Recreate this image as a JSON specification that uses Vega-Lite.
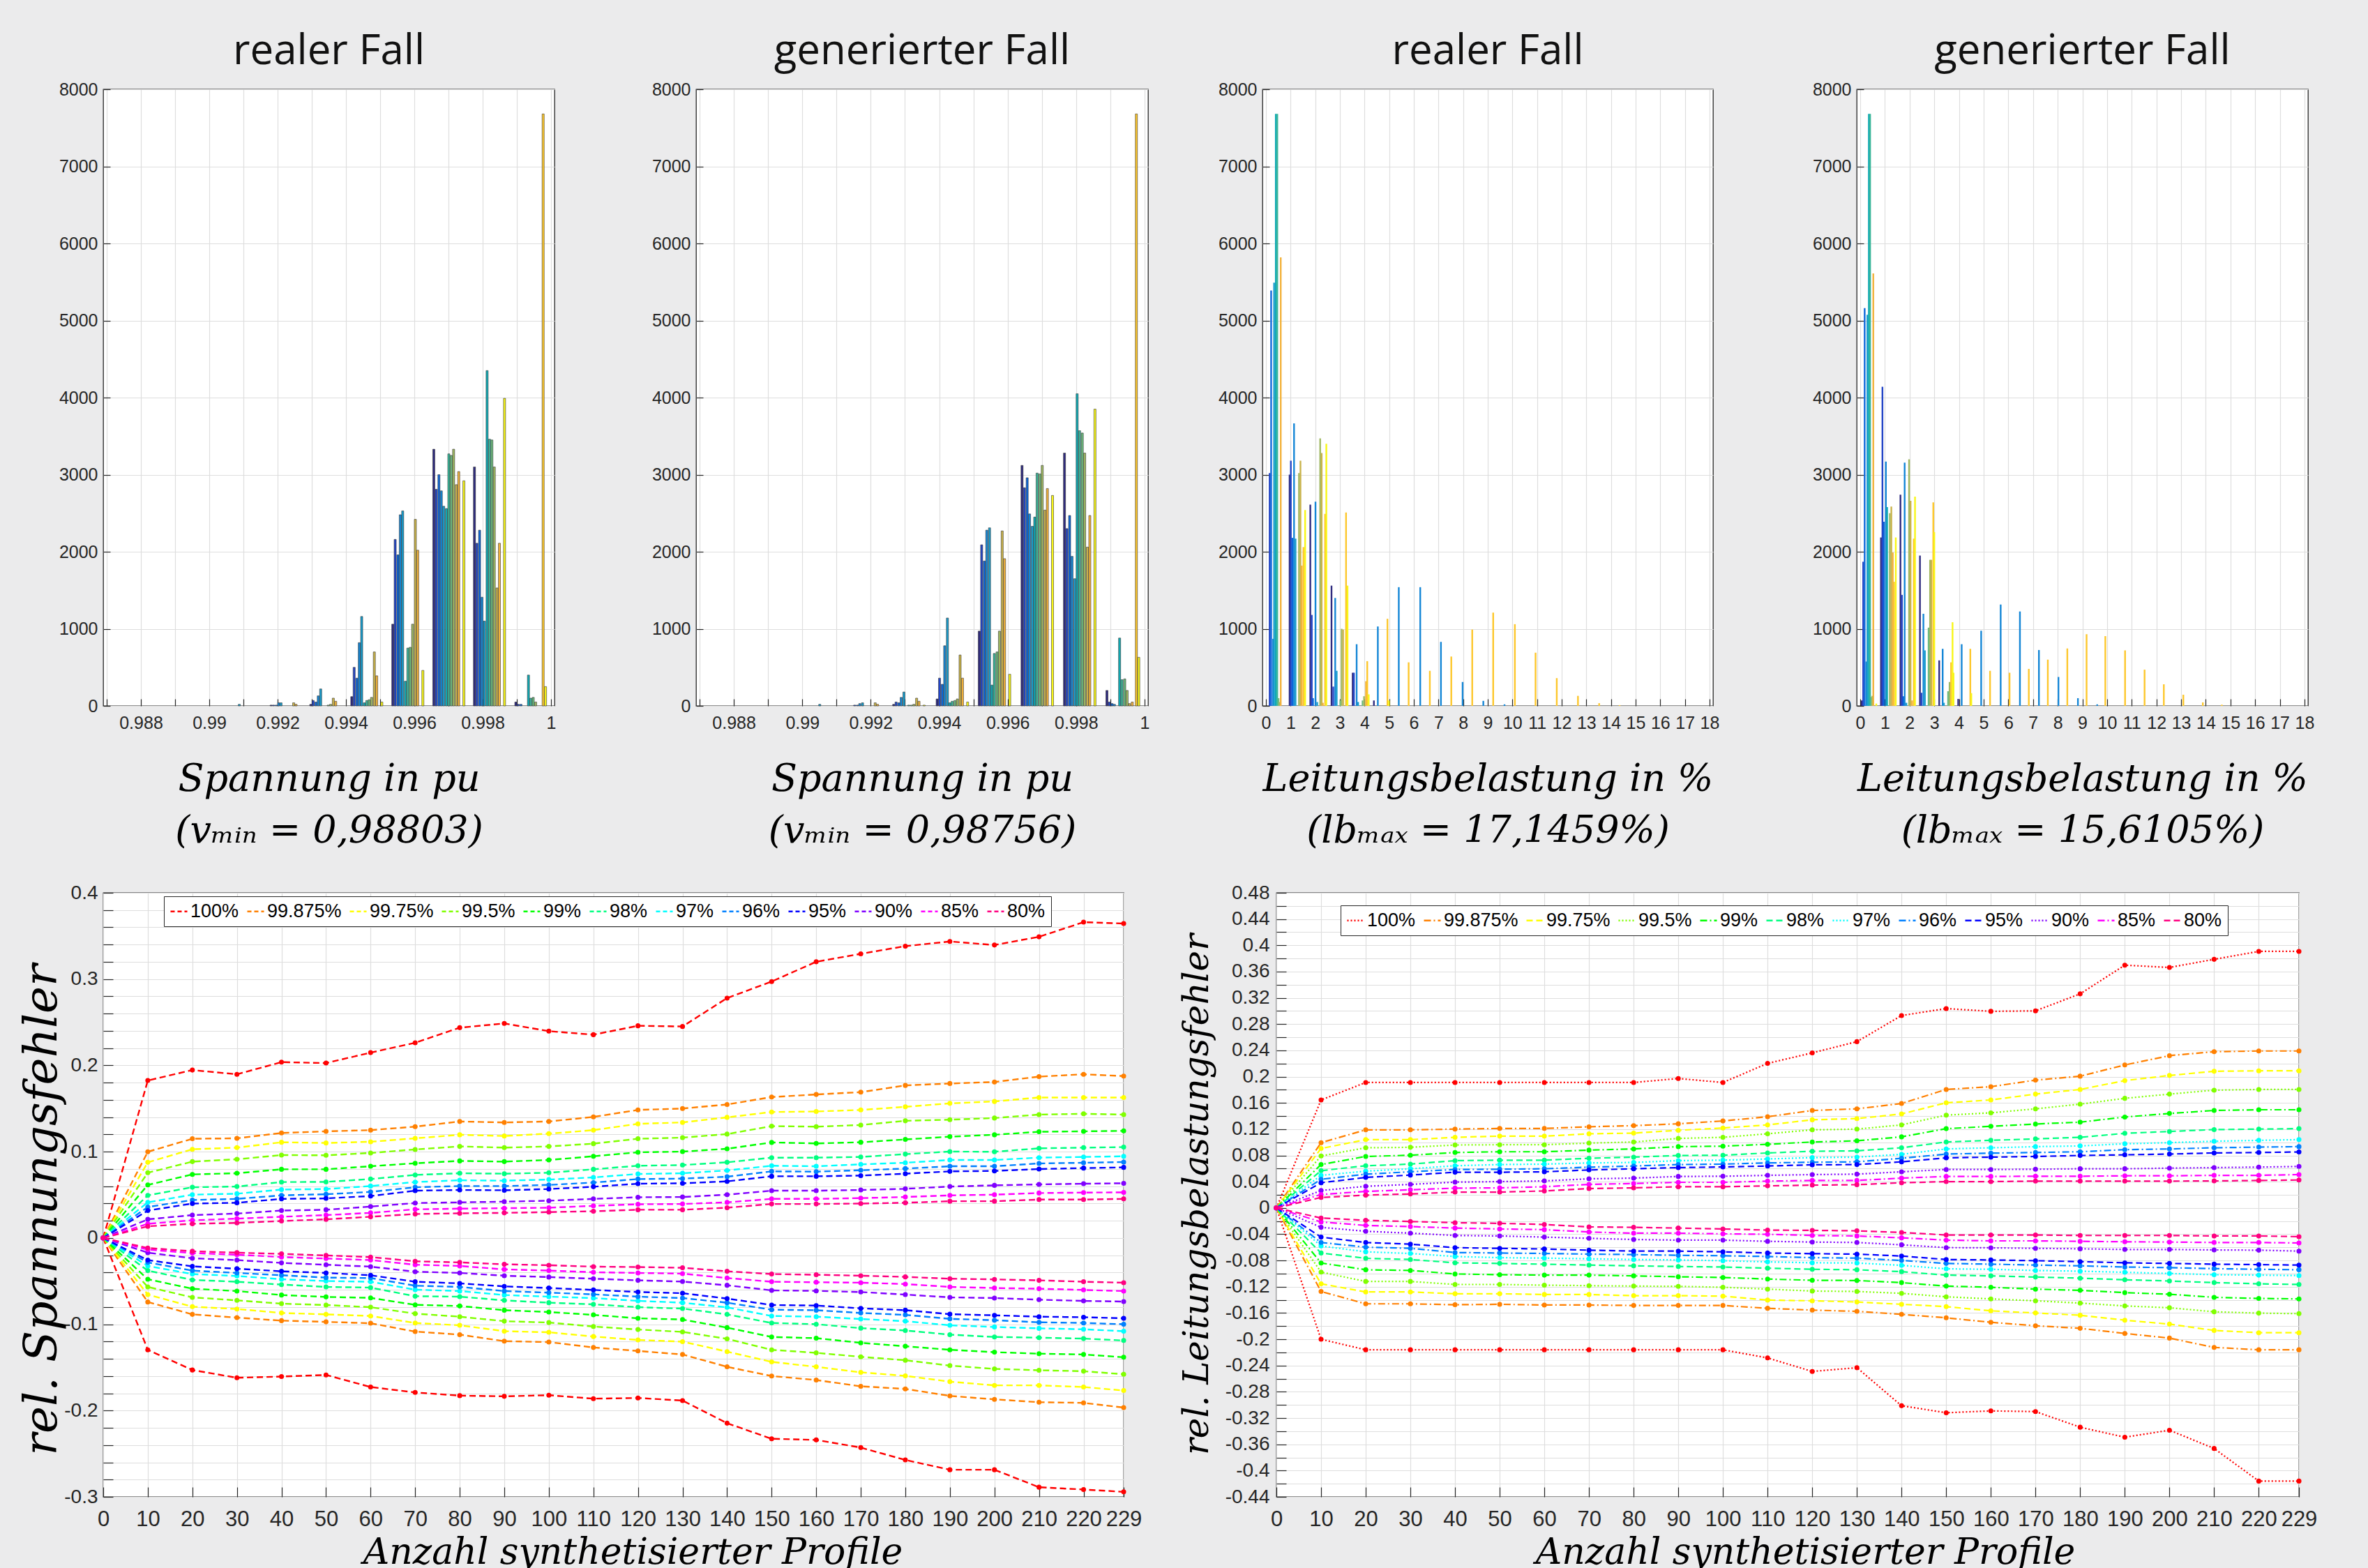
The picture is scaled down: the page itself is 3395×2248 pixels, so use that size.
{
"$schema": "https://vega.github.io/schema/vega-lite/v6.json",
"autosize": {"type": "none"},
"padding": {"left": 148, "top": 128, "right": 3247, "bottom": 2120},
"background": "#EBEBEC",
"spacing": 46,
"resolve": {"scale": {"color": "independent", "strokeDash": "independent"}},
"config": {
  "view": {"stroke": "#262626", "strokeWidth": 1.3, "fill": "white"},
  "axis": {"domain": false, "labelFont": "Liberation Sans", "labelColor": "#262626", "labelOverlap": false, "labelFlush": false, "labelBound": false, "tickColor": "#262626", "tickWidth": 1.2, "gridColor": "#DEDEDE", "gridWidth": 1.2, "titleFont": "DejaVu Serif", "titleFontStyle": "italic", "titleFontWeight": "normal", "titleColor": "black"},
  "title": {"font": "Open Sans", "fontSize": 60, "fontWeight": "normal", "color": "#111111", "frame": "group", "offset": 11, "baseline": "alphabetic", "anchor": "middle"}
},
"datasets": {
"h1": [
{"x":0.99088,"n":20,"k":4},
{"x":0.99181,"n":10,"k":0},{"x":0.99188,"n":10,"k":1},{"x":0.99196,"n":10,"k":2},{"x":0.99203,"n":40,"k":3},{"x":0.99210,"n":40,"k":4},{"x":0.99247,"n":40,"k":9},{"x":0.99254,"n":20,"k":10},
{"x":0.99297,"n":20,"k":0},{"x":0.99304,"n":70,"k":1},{"x":0.99312,"n":50,"k":2},{"x":0.99319,"n":130,"k":3},{"x":0.99326,"n":220,"k":4},{"x":0.99348,"n":10,"k":7},{"x":0.99355,"n":20,"k":8},{"x":0.99363,"n":100,"k":9},{"x":0.99370,"n":60,"k":10},
{"x":0.99417,"n":120,"k":0},{"x":0.99424,"n":500,"k":1},{"x":0.99432,"n":360,"k":2},{"x":0.99439,"n":820,"k":3},{"x":0.99446,"n":1160,"k":4},{"x":0.99454,"n":40,"k":5},{"x":0.99461,"n":70,"k":6},{"x":0.99468,"n":80,"k":7},{"x":0.99475,"n":110,"k":8},{"x":0.99483,"n":700,"k":9},{"x":0.99490,"n":390,"k":10},{"x":0.99505,"n":50,"k":12},
{"x":0.99537,"n":1060,"k":0},{"x":0.99544,"n":2160,"k":1},{"x":0.99552,"n":1960,"k":2},{"x":0.99559,"n":2480,"k":3},{"x":0.99566,"n":2530,"k":4},{"x":0.99574,"n":320,"k":5},{"x":0.99581,"n":750,"k":6},{"x":0.99588,"n":760,"k":7},{"x":0.99595,"n":1060,"k":8},{"x":0.99603,"n":2420,"k":9},{"x":0.99610,"n":2020,"k":10},{"x":0.99625,"n":460,"k":12},
{"x":0.99657,"n":3330,"k":0},{"x":0.99664,"n":2810,"k":1},{"x":0.99672,"n":3000,"k":2},{"x":0.99679,"n":2790,"k":3},{"x":0.99686,"n":2590,"k":4},{"x":0.99694,"n":2560,"k":5},{"x":0.99701,"n":3270,"k":6},{"x":0.99708,"n":3250,"k":7},{"x":0.99715,"n":3330,"k":8},{"x":0.99723,"n":2870,"k":9},{"x":0.99730,"n":3040,"k":10},{"x":0.99745,"n":2920,"k":12},
{"x":0.99776,"n":3100,"k":0},{"x":0.99783,"n":2110,"k":1},{"x":0.99791,"n":2280,"k":2},{"x":0.99798,"n":1410,"k":3},{"x":0.99805,"n":1100,"k":4},{"x":0.99813,"n":4350,"k":5},{"x":0.99820,"n":3460,"k":6},{"x":0.99827,"n":3450,"k":7},{"x":0.99834,"n":3100,"k":8},{"x":0.99842,"n":1530,"k":9},{"x":0.99849,"n":2110,"k":10},{"x":0.99864,"n":3990,"k":12},
{"x":0.99897,"n":50,"k":0},{"x":0.99904,"n":20,"k":1},{"x":0.99912,"n":20,"k":2},{"x":0.99934,"n":400,"k":5},{"x":0.99941,"n":100,"k":6},{"x":0.99948,"n":110,"k":7},{"x":0.99955,"n":50,"k":8},{"x":0.99977,"n":7680,"k":11},{"x":0.99984,"n":250,"k":12}
],
"h2": [
{"x":0.99051,"n":20,"k":4},
{"x":0.99153,"n":10,"k":1},{"x":0.99161,"n":10,"k":2},{"x":0.99168,"n":30,"k":3},{"x":0.99176,"n":40,"k":4},{"x":0.99213,"n":40,"k":9},{"x":0.99220,"n":20,"k":10},
{"x":0.99267,"n":20,"k":0},{"x":0.99274,"n":50,"k":1},{"x":0.99282,"n":40,"k":2},{"x":0.99289,"n":110,"k":3},{"x":0.99297,"n":180,"k":4},{"x":0.99311,"n":10,"k":6},{"x":0.99319,"n":10,"k":7},{"x":0.99326,"n":20,"k":8},{"x":0.99334,"n":100,"k":9},{"x":0.99341,"n":60,"k":10},{"x":0.99356,"n":10,"k":12},
{"x":0.99394,"n":90,"k":0},{"x":0.99401,"n":360,"k":1},{"x":0.99409,"n":280,"k":2},{"x":0.99416,"n":780,"k":3},{"x":0.99424,"n":1140,"k":4},{"x":0.99431,"n":40,"k":5},{"x":0.99438,"n":60,"k":6},{"x":0.99446,"n":70,"k":7},{"x":0.99453,"n":90,"k":8},{"x":0.99461,"n":660,"k":9},{"x":0.99468,"n":360,"k":10},{"x":0.99483,"n":50,"k":12},
{"x":0.99517,"n":970,"k":0},{"x":0.99524,"n":2090,"k":1},{"x":0.99532,"n":1880,"k":2},{"x":0.99539,"n":2280,"k":3},{"x":0.99547,"n":2310,"k":4},{"x":0.99554,"n":270,"k":5},{"x":0.99561,"n":680,"k":6},{"x":0.99569,"n":700,"k":7},{"x":0.99576,"n":970,"k":8},{"x":0.99584,"n":2270,"k":9},{"x":0.99591,"n":1910,"k":10},{"x":0.99606,"n":410,"k":12},
{"x":0.99642,"n":3120,"k":0},{"x":0.99649,"n":2830,"k":1},{"x":0.99657,"n":2960,"k":2},{"x":0.99664,"n":2490,"k":3},{"x":0.99672,"n":2330,"k":4},{"x":0.99679,"n":2450,"k":5},{"x":0.99686,"n":3020,"k":6},{"x":0.99694,"n":3010,"k":7},{"x":0.99701,"n":3120,"k":8},{"x":0.99709,"n":2540,"k":9},{"x":0.99716,"n":2820,"k":10},{"x":0.99731,"n":2730,"k":12},
{"x":0.99766,"n":3280,"k":0},{"x":0.99773,"n":2300,"k":1},{"x":0.99781,"n":2470,"k":2},{"x":0.99788,"n":1940,"k":3},{"x":0.99796,"n":1650,"k":4},{"x":0.99803,"n":4050,"k":5},{"x":0.99810,"n":3570,"k":6},{"x":0.99818,"n":3540,"k":7},{"x":0.99825,"n":3280,"k":8},{"x":0.99833,"n":2060,"k":9},{"x":0.99840,"n":2470,"k":10},{"x":0.99855,"n":3850,"k":12},
{"x":0.99890,"n":200,"k":0},{"x":0.99897,"n":50,"k":1},{"x":0.99905,"n":30,"k":2},{"x":0.99912,"n":20,"k":3},{"x":0.99927,"n":880,"k":5},{"x":0.99934,"n":340,"k":6},{"x":0.99942,"n":350,"k":7},{"x":0.99949,"n":200,"k":8},{"x":0.99956,"n":30,"k":9},{"x":0.99964,"n":50,"k":10},{"x":0.99976,"n":7680,"k":11},{"x":0.99983,"n":630,"k":12}
],
"h3": [
{"x":0.15,"n":3020,"k":1},{"x":0.21,"n":5390,"k":2},{"x":0.29,"n":870,"k":3},{"x":0.33,"n":5490,"k":4},{"x":0.40,"n":7680,"k":5},{"x":0.46,"n":7680,"k":6},{"x":0.51,"n":100,"k":7},{"x":0.55,"n":50,"k":8},{"x":0.60,"n":5820,"k":10},
{"x":0.96,"n":3000,"k":0},{"x":1.01,"n":3180,"k":1},{"x":1.07,"n":2180,"k":2},{"x":1.14,"n":3665,"k":3},{"x":1.20,"n":2170,"k":4},{"x":1.34,"n":3020,"k":8},{"x":1.40,"n":3180,"k":9},{"x":1.45,"n":1820,"k":10},{"x":1.52,"n":2060,"k":11},{"x":1.59,"n":2540,"k":12},
{"x":1.80,"n":2610,"k":0},{"x":1.86,"n":1180,"k":1},{"x":1.91,"n":100,"k":2},{"x":2.01,"n":2650,"k":3},{"x":2.08,"n":50,"k":4},{"x":2.20,"n":3470,"k":8},{"x":2.26,"n":3280,"k":9},{"x":2.31,"n":40,"k":10},{"x":2.40,"n":2490,"k":11},{"x":2.45,"n":3400,"k":12},
{"x":2.66,"n":1560,"k":0},{"x":2.73,"n":250,"k":1},{"x":2.81,"n":1400,"k":3},{"x":2.87,"n":455,"k":4},{"x":3.02,"n":70,"k":7},{"x":3.07,"n":1000,"k":8},{"x":3.13,"n":990,"k":9},{"x":3.25,"n":2510,"k":11},{"x":3.31,"n":1560,"k":12},
{"x":3.52,"n":430,"k":0},{"x":3.57,"n":430,"k":1},{"x":3.68,"n":800,"k":3},{"x":3.74,"n":50,"k":4},{"x":3.92,"n":70,"k":7},{"x":3.98,"n":125,"k":8},{"x":4.06,"n":320,"k":10},{"x":4.11,"n":580,"k":11},{"x":4.17,"n":150,"k":12},
{"x":4.38,"n":70,"k":0},{"x":4.54,"n":1030,"k":3},{"x":4.93,"n":1130,"k":11},{"x":4.99,"n":70,"k":12},{"x":5.39,"n":1540,"k":3},{"x":5.79,"n":565,"k":11},{"x":6.26,"n":1540,"k":3},{"x":6.65,"n":455,"k":11},{"x":7.10,"n":830,"k":3},{"x":7.52,"n":640,"k":11},{"x":7.98,"n":310,"k":3},{"x":8.37,"n":990,"k":11},{"x":8.82,"n":65,"k":3},{"x":9.22,"n":1210,"k":11},{"x":9.68,"n":20,"k":3},{"x":10.1,"n":1060,"k":11},{"x":10.94,"n":690,"k":11},{"x":11.8,"n":360,"k":11},{"x":12.66,"n":130,"k":11},{"x":13.52,"n":35,"k":11},{"x":14.35,"n":10,"k":11}
],
"h4": [
{"x":0.06,"n":70,"k":0},{"x":0.12,"n":1870,"k":1},{"x":0.18,"n":5160,"k":2},{"x":0.25,"n":575,"k":3},{"x":0.29,"n":5075,"k":4},{"x":0.35,"n":7680,"k":5},{"x":0.40,"n":7680,"k":6},{"x":0.46,"n":115,"k":7},{"x":0.49,"n":130,"k":8},{"x":0.53,"n":5610,"k":10},{"x":0.65,"n":30,"k":12},
{"x":0.84,"n":2185,"k":0},{"x":0.90,"n":4140,"k":1},{"x":0.96,"n":2390,"k":2},{"x":1.04,"n":3170,"k":3},{"x":1.09,"n":2580,"k":5},{"x":1.20,"n":2500,"k":8},{"x":1.26,"n":2585,"k":9},{"x":1.32,"n":1990,"k":10},{"x":1.37,"n":1610,"k":11},{"x":1.44,"n":2185,"k":12},
{"x":1.63,"n":2740,"k":0},{"x":1.69,"n":1440,"k":1},{"x":1.75,"n":125,"k":2},{"x":1.80,"n":3155,"k":3},{"x":1.87,"n":40,"k":4},{"x":1.98,"n":3200,"k":8},{"x":2.04,"n":2660,"k":9},{"x":2.10,"n":70,"k":10},{"x":2.17,"n":2170,"k":11},{"x":2.22,"n":2715,"k":12},
{"x":2.42,"n":1950,"k":0},{"x":2.48,"n":170,"k":1},{"x":2.56,"n":1195,"k":3},{"x":2.62,"n":720,"k":4},{"x":2.77,"n":1015,"k":7},{"x":2.83,"n":1895,"k":8},{"x":2.88,"n":1895,"k":9},{"x":2.96,"n":2640,"k":11},{"x":3.00,"n":2255,"k":12},
{"x":3.20,"n":590,"k":0},{"x":3.34,"n":740,"k":3},{"x":3.39,"n":40,"k":4},{"x":3.56,"n":190,"k":7},{"x":3.62,"n":310,"k":8},{"x":3.68,"n":565,"k":11},{"x":3.74,"n":1085,"k":12},{"x":3.78,"n":430,"k":12},
{"x":3.97,"n":90,"k":0},{"x":4.11,"n":800,"k":3},{"x":4.46,"n":740,"k":11},{"x":4.50,"n":165,"k":12},{"x":4.90,"n":975,"k":3},{"x":5.26,"n":455,"k":11},{"x":5.69,"n":1315,"k":3},{"x":6.05,"n":430,"k":11},{"x":6.47,"n":1225,"k":3},{"x":6.83,"n":480,"k":11},{"x":7.24,"n":725,"k":3},{"x":7.60,"n":600,"k":11},{"x":8.03,"n":375,"k":3},{"x":8.39,"n":745,"k":11},{"x":8.82,"n":100,"k":3},{"x":9.17,"n":930,"k":11},{"x":9.60,"n":20,"k":3},{"x":9.93,"n":905,"k":11},{"x":10.73,"n":720,"k":11},{"x":11.52,"n":470,"k":11},{"x":12.30,"n":280,"k":11},{"x":13.09,"n":145,"k":11},{"x":13.88,"n":45,"k":11},{"x":14.65,"n":15,"k":11}
],
"left": [
{"s":"100%","h":"u","n":0,"v":0},{"s":"100%","h":"u","n":10,"v":0.1825},{"s":"100%","h":"u","n":20,"v":0.1946},{"s":"100%","h":"u","n":30,"v":0.1897},{"s":"100%","h":"u","n":40,"v":0.2038},{"s":"100%","h":"u","n":50,"v":0.2027},{"s":"100%","h":"u","n":60,"v":0.2148},{"s":"100%","h":"u","n":70,"v":0.2262},{"s":"100%","h":"u","n":80,"v":0.2437},{"s":"100%","h":"u","n":90,"v":0.2486},{"s":"100%","h":"u","n":100,"v":0.2397},{"s":"100%","h":"u","n":110,"v":0.2356},{"s":"100%","h":"u","n":120,"v":0.2459},{"s":"100%","h":"u","n":130,"v":0.2451},{"s":"100%","h":"u","n":140,"v":0.278},{"s":"100%","h":"u","n":150,"v":0.2972},{"s":"100%","h":"u","n":160,"v":0.3201},{"s":"100%","h":"u","n":170,"v":0.3293},{"s":"100%","h":"u","n":180,"v":0.3382},{"s":"100%","h":"u","n":190,"v":0.3436},{"s":"100%","h":"u","n":200,"v":0.3395},{"s":"100%","h":"u","n":210,"v":0.349},{"s":"100%","h":"u","n":220,"v":0.366},{"s":"100%","h":"u","n":229,"v":0.3644},
{"s":"100%","h":"l","n":0,"v":0},{"s":"100%","h":"l","n":10,"v":-0.1296},{"s":"100%","h":"l","n":20,"v":-0.153},{"s":"100%","h":"l","n":30,"v":-0.162},{"s":"100%","h":"l","n":40,"v":-0.1606},{"s":"100%","h":"l","n":50,"v":-0.1587},{"s":"100%","h":"l","n":60,"v":-0.1727},{"s":"100%","h":"l","n":70,"v":-0.179},{"s":"100%","h":"l","n":80,"v":-0.1827},{"s":"100%","h":"l","n":90,"v":-0.1835},{"s":"100%","h":"l","n":100,"v":-0.1822},{"s":"100%","h":"l","n":110,"v":-0.1862},{"s":"100%","h":"l","n":120,"v":-0.1854},{"s":"100%","h":"l","n":130,"v":-0.1884},{"s":"100%","h":"l","n":140,"v":-0.2146},{"s":"100%","h":"l","n":150,"v":-0.2327},{"s":"100%","h":"l","n":160,"v":-0.234},{"s":"100%","h":"l","n":170,"v":-0.2429},{"s":"100%","h":"l","n":180,"v":-0.2572},{"s":"100%","h":"l","n":190,"v":-0.2686},{"s":"100%","h":"l","n":200,"v":-0.2686},{"s":"100%","h":"l","n":210,"v":-0.2888},{"s":"100%","h":"l","n":220,"v":-0.2915},{"s":"100%","h":"l","n":229,"v":-0.2942},
{"s":"99.875%","h":"u","n":0,"v":0},{"s":"99.875%","h":"u","n":10,"v":0.0999},{"s":"99.875%","h":"u","n":20,"v":0.115},{"s":"99.875%","h":"u","n":30,"v":0.1155},{"s":"99.875%","h":"u","n":40,"v":0.1217},{"s":"99.875%","h":"u","n":50,"v":0.1236},{"s":"99.875%","h":"u","n":60,"v":0.125},{"s":"99.875%","h":"u","n":70,"v":0.129},{"s":"99.875%","h":"u","n":80,"v":0.135},{"s":"99.875%","h":"u","n":90,"v":0.1339},{"s":"99.875%","h":"u","n":100,"v":0.135},{"s":"99.875%","h":"u","n":110,"v":0.1403},{"s":"99.875%","h":"u","n":120,"v":0.1484},{"s":"99.875%","h":"u","n":130,"v":0.15},{"s":"99.875%","h":"u","n":140,"v":0.1547},{"s":"99.875%","h":"u","n":150,"v":0.1633},{"s":"99.875%","h":"u","n":160,"v":0.1663},{"s":"99.875%","h":"u","n":170,"v":0.169},{"s":"99.875%","h":"u","n":180,"v":0.1768},{"s":"99.875%","h":"u","n":190,"v":0.179},{"s":"99.875%","h":"u","n":200,"v":0.1808},{"s":"99.875%","h":"u","n":210,"v":0.187},{"s":"99.875%","h":"u","n":220,"v":0.1897},{"s":"99.875%","h":"u","n":229,"v":0.1876},
{"s":"99.875%","h":"l","n":0,"v":0},{"s":"99.875%","h":"l","n":10,"v":-0.0742},{"s":"99.875%","h":"l","n":20,"v":-0.0885},{"s":"99.875%","h":"l","n":30,"v":-0.0923},{"s":"99.875%","h":"l","n":40,"v":-0.0958},{"s":"99.875%","h":"l","n":50,"v":-0.0972},{"s":"99.875%","h":"l","n":60,"v":-0.0988},{"s":"99.875%","h":"l","n":70,"v":-0.1085},{"s":"99.875%","h":"l","n":80,"v":-0.112},{"s":"99.875%","h":"l","n":90,"v":-0.1196},{"s":"99.875%","h":"l","n":100,"v":-0.1206},{"s":"99.875%","h":"l","n":110,"v":-0.1269},{"s":"99.875%","h":"l","n":120,"v":-0.1309},{"s":"99.875%","h":"l","n":130,"v":-0.135},{"s":"99.875%","h":"l","n":140,"v":-0.1493},{"s":"99.875%","h":"l","n":150,"v":-0.16},{"s":"99.875%","h":"l","n":160,"v":-0.1646},{"s":"99.875%","h":"l","n":170,"v":-0.1719},{"s":"99.875%","h":"l","n":180,"v":-0.1749},{"s":"99.875%","h":"l","n":190,"v":-0.183},{"s":"99.875%","h":"l","n":200,"v":-0.187},{"s":"99.875%","h":"l","n":210,"v":-0.1903},{"s":"99.875%","h":"l","n":220,"v":-0.1911},{"s":"99.875%","h":"l","n":229,"v":-0.1965},
{"s":"99.75%","h":"u","n":0,"v":0},{"s":"99.75%","h":"u","n":10,"v":0.0877},{"s":"99.75%","h":"u","n":20,"v":0.1028},{"s":"99.75%","h":"u","n":30,"v":0.1047},{"s":"99.75%","h":"u","n":40,"v":0.1109},{"s":"99.75%","h":"u","n":50,"v":0.1101},{"s":"99.75%","h":"u","n":60,"v":0.1115},{"s":"99.75%","h":"u","n":70,"v":0.1155},{"s":"99.75%","h":"u","n":80,"v":0.1196},{"s":"99.75%","h":"u","n":90,"v":0.1182},{"s":"99.75%","h":"u","n":100,"v":0.1209},{"s":"99.75%","h":"u","n":110,"v":0.125},{"s":"99.75%","h":"u","n":120,"v":0.1323},{"s":"99.75%","h":"u","n":130,"v":0.1339},{"s":"99.75%","h":"u","n":140,"v":0.1398},{"s":"99.75%","h":"u","n":150,"v":0.146},{"s":"99.75%","h":"u","n":160,"v":0.1466},{"s":"99.75%","h":"u","n":170,"v":0.1484},{"s":"99.75%","h":"u","n":180,"v":0.152},{"s":"99.75%","h":"u","n":190,"v":0.156},{"s":"99.75%","h":"u","n":200,"v":0.1582},{"s":"99.75%","h":"u","n":210,"v":0.1628},{"s":"99.75%","h":"u","n":220,"v":0.1628},{"s":"99.75%","h":"u","n":229,"v":0.1628},
{"s":"99.75%","h":"l","n":0,"v":0},{"s":"99.75%","h":"l","n":10,"v":-0.0656},{"s":"99.75%","h":"l","n":20,"v":-0.0796},{"s":"99.75%","h":"l","n":30,"v":-0.0823},{"s":"99.75%","h":"l","n":40,"v":-0.0869},{"s":"99.75%","h":"l","n":50,"v":-0.0885},{"s":"99.75%","h":"l","n":60,"v":-0.0904},{"s":"99.75%","h":"l","n":70,"v":-0.0985},{"s":"99.75%","h":"l","n":80,"v":-0.1012},{"s":"99.75%","h":"l","n":90,"v":-0.108},{"s":"99.75%","h":"l","n":100,"v":-0.1093},{"s":"99.75%","h":"l","n":110,"v":-0.1142},{"s":"99.75%","h":"l","n":120,"v":-0.1182},{"s":"99.75%","h":"l","n":130,"v":-0.1201},{"s":"99.75%","h":"l","n":140,"v":-0.1317},{"s":"99.75%","h":"l","n":150,"v":-0.1436},{"s":"99.75%","h":"l","n":160,"v":-0.1493},{"s":"99.75%","h":"l","n":170,"v":-0.1557},{"s":"99.75%","h":"l","n":180,"v":-0.1598},{"s":"99.75%","h":"l","n":190,"v":-0.1665},{"s":"99.75%","h":"l","n":200,"v":-0.1708},{"s":"99.75%","h":"l","n":210,"v":-0.1708},{"s":"99.75%","h":"l","n":220,"v":-0.1727},{"s":"99.75%","h":"l","n":229,"v":-0.1768},
{"s":"99.5%","h":"u","n":0,"v":0},{"s":"99.5%","h":"u","n":10,"v":0.0756},{"s":"99.5%","h":"u","n":20,"v":0.0885},{"s":"99.5%","h":"u","n":30,"v":0.0912},{"s":"99.5%","h":"u","n":40,"v":0.0961},{"s":"99.5%","h":"u","n":50,"v":0.0958},{"s":"99.5%","h":"u","n":60,"v":0.0985},{"s":"99.5%","h":"u","n":70,"v":0.1026},{"s":"99.5%","h":"u","n":80,"v":0.1061},{"s":"99.5%","h":"u","n":90,"v":0.1047},{"s":"99.5%","h":"u","n":100,"v":0.1061},{"s":"99.5%","h":"u","n":110,"v":0.1093},{"s":"99.5%","h":"u","n":120,"v":0.115},{"s":"99.5%","h":"u","n":130,"v":0.1163},{"s":"99.5%","h":"u","n":140,"v":0.1204},{"s":"99.5%","h":"u","n":150,"v":0.1296},{"s":"99.5%","h":"u","n":160,"v":0.129},{"s":"99.5%","h":"u","n":170,"v":0.1309},{"s":"99.5%","h":"u","n":180,"v":0.1358},{"s":"99.5%","h":"u","n":190,"v":0.1371},{"s":"99.5%","h":"u","n":200,"v":0.139},{"s":"99.5%","h":"u","n":210,"v":0.143},{"s":"99.5%","h":"u","n":220,"v":0.1439},{"s":"99.5%","h":"u","n":229,"v":0.143},
{"s":"99.5%","h":"l","n":0,"v":0},{"s":"99.5%","h":"l","n":10,"v":-0.0567},{"s":"99.5%","h":"l","n":20,"v":-0.0688},{"s":"99.5%","h":"l","n":30,"v":-0.0723},{"s":"99.5%","h":"l","n":40,"v":-0.0761},{"s":"99.5%","h":"l","n":50,"v":-0.0777},{"s":"99.5%","h":"l","n":60,"v":-0.0802},{"s":"99.5%","h":"l","n":70,"v":-0.0877},{"s":"99.5%","h":"l","n":80,"v":-0.0912},{"s":"99.5%","h":"l","n":90,"v":-0.0964},{"s":"99.5%","h":"l","n":100,"v":-0.098},{"s":"99.5%","h":"l","n":110,"v":-0.1026},{"s":"99.5%","h":"l","n":120,"v":-0.1061},{"s":"99.5%","h":"l","n":130,"v":-0.1088},{"s":"99.5%","h":"l","n":140,"v":-0.1169},{"s":"99.5%","h":"l","n":150,"v":-0.1296},{"s":"99.5%","h":"l","n":160,"v":-0.1331},{"s":"99.5%","h":"l","n":170,"v":-0.1377},{"s":"99.5%","h":"l","n":180,"v":-0.1417},{"s":"99.5%","h":"l","n":190,"v":-0.1479},{"s":"99.5%","h":"l","n":200,"v":-0.1517},{"s":"99.5%","h":"l","n":210,"v":-0.1533},{"s":"99.5%","h":"l","n":220,"v":-0.1544},{"s":"99.5%","h":"l","n":229,"v":-0.1579},
{"s":"99%","h":"u","n":0,"v":0},{"s":"99%","h":"u","n":10,"v":0.0615},{"s":"99%","h":"u","n":20,"v":0.0737},{"s":"99%","h":"u","n":30,"v":0.075},{"s":"99%","h":"u","n":40,"v":0.0796},{"s":"99%","h":"u","n":50,"v":0.0796},{"s":"99%","h":"u","n":60,"v":0.0831},{"s":"99%","h":"u","n":70,"v":0.0866},{"s":"99%","h":"u","n":80,"v":0.0893},{"s":"99%","h":"u","n":90,"v":0.0885},{"s":"99%","h":"u","n":100,"v":0.0904},{"s":"99%","h":"u","n":110,"v":0.0947},{"s":"99%","h":"u","n":120,"v":0.0993},{"s":"99%","h":"u","n":130,"v":0.1001},{"s":"99%","h":"u","n":140,"v":0.1034},{"s":"99%","h":"u","n":150,"v":0.1107},{"s":"99%","h":"u","n":160,"v":0.1096},{"s":"99%","h":"u","n":170,"v":0.1109},{"s":"99%","h":"u","n":180,"v":0.1142},{"s":"99%","h":"u","n":190,"v":0.1174},{"s":"99%","h":"u","n":200,"v":0.1196},{"s":"99%","h":"u","n":210,"v":0.1231},{"s":"99%","h":"u","n":220,"v":0.1236},{"s":"99%","h":"u","n":229,"v":0.1242},
{"s":"99%","h":"l","n":0,"v":0},{"s":"99%","h":"l","n":10,"v":-0.0478},{"s":"99%","h":"l","n":20,"v":-0.0588},{"s":"99%","h":"l","n":30,"v":-0.0615},{"s":"99%","h":"l","n":40,"v":-0.0661},{"s":"99%","h":"l","n":50,"v":-0.0683},{"s":"99%","h":"l","n":60,"v":-0.0694},{"s":"99%","h":"l","n":70,"v":-0.0775},{"s":"99%","h":"l","n":80,"v":-0.0788},{"s":"99%","h":"l","n":90,"v":-0.0837},{"s":"99%","h":"l","n":100,"v":-0.0858},{"s":"99%","h":"l","n":110,"v":-0.0891},{"s":"99%","h":"l","n":120,"v":-0.0931},{"s":"99%","h":"l","n":130,"v":-0.0945},{"s":"99%","h":"l","n":140,"v":-0.1039},{"s":"99%","h":"l","n":150,"v":-0.1147},{"s":"99%","h":"l","n":160,"v":-0.1161},{"s":"99%","h":"l","n":170,"v":-0.1215},{"s":"99%","h":"l","n":180,"v":-0.1255},{"s":"99%","h":"l","n":190,"v":-0.1296},{"s":"99%","h":"l","n":200,"v":-0.1323},{"s":"99%","h":"l","n":210,"v":-0.1341},{"s":"99%","h":"l","n":220,"v":-0.135},{"s":"99%","h":"l","n":229,"v":-0.1382},
{"s":"98%","h":"u","n":0,"v":0},{"s":"98%","h":"u","n":10,"v":0.0494},{"s":"98%","h":"u","n":20,"v":0.0588},{"s":"98%","h":"u","n":30,"v":0.0596},{"s":"98%","h":"u","n":40,"v":0.0648},{"s":"98%","h":"u","n":50,"v":0.065},{"s":"98%","h":"u","n":60,"v":0.0683},{"s":"98%","h":"u","n":70,"v":0.0731},{"s":"98%","h":"u","n":80,"v":0.075},{"s":"98%","h":"u","n":90,"v":0.0745},{"s":"98%","h":"u","n":100,"v":0.0756},{"s":"98%","h":"u","n":110,"v":0.0796},{"s":"98%","h":"u","n":120,"v":0.0837},{"s":"98%","h":"u","n":130,"v":0.0845},{"s":"98%","h":"u","n":140,"v":0.0877},{"s":"98%","h":"u","n":150,"v":0.0931},{"s":"98%","h":"u","n":160,"v":0.0931},{"s":"98%","h":"u","n":170,"v":0.0939},{"s":"98%","h":"u","n":180,"v":0.0972},{"s":"98%","h":"u","n":190,"v":0.1001},{"s":"98%","h":"u","n":200,"v":0.0999},{"s":"98%","h":"u","n":210,"v":0.1039},{"s":"98%","h":"u","n":220,"v":0.1047},{"s":"98%","h":"u","n":229,"v":0.1053},
{"s":"98%","h":"l","n":0,"v":0},{"s":"98%","h":"l","n":10,"v":-0.0378},{"s":"98%","h":"l","n":20,"v":-0.0486},{"s":"98%","h":"l","n":30,"v":-0.0507},{"s":"98%","h":"l","n":40,"v":-0.054},{"s":"98%","h":"l","n":50,"v":-0.0567},{"s":"98%","h":"l","n":60,"v":-0.0575},{"s":"98%","h":"l","n":70,"v":-0.0675},{"s":"98%","h":"l","n":80,"v":-0.068},{"s":"98%","h":"l","n":90,"v":-0.0723},{"s":"98%","h":"l","n":100,"v":-0.075},{"s":"98%","h":"l","n":110,"v":-0.0769},{"s":"98%","h":"l","n":120,"v":-0.0802},{"s":"98%","h":"l","n":130,"v":-0.0818},{"s":"98%","h":"l","n":140,"v":-0.0885},{"s":"98%","h":"l","n":150,"v":-0.0985},{"s":"98%","h":"l","n":160,"v":-0.0999},{"s":"98%","h":"l","n":170,"v":-0.1045},{"s":"98%","h":"l","n":180,"v":-0.1072},{"s":"98%","h":"l","n":190,"v":-0.112},{"s":"98%","h":"l","n":200,"v":-0.1147},{"s":"98%","h":"l","n":210,"v":-0.1155},{"s":"98%","h":"l","n":220,"v":-0.1166},{"s":"98%","h":"l","n":229,"v":-0.1188},
{"s":"97%","h":"u","n":0,"v":0},{"s":"97%","h":"u","n":10,"v":0.0413},{"s":"97%","h":"u","n":20,"v":0.0502},{"s":"97%","h":"u","n":30,"v":0.0513},{"s":"97%","h":"u","n":40,"v":0.0561},{"s":"97%","h":"u","n":50,"v":0.0567},{"s":"97%","h":"u","n":60,"v":0.0602},{"s":"97%","h":"u","n":70,"v":0.0648},{"s":"97%","h":"u","n":80,"v":0.0669},{"s":"97%","h":"u","n":90,"v":0.0664},{"s":"97%","h":"u","n":100,"v":0.0677},{"s":"97%","h":"u","n":110,"v":0.0702},{"s":"97%","h":"u","n":120,"v":0.0742},{"s":"97%","h":"u","n":130,"v":0.075},{"s":"97%","h":"u","n":140,"v":0.0783},{"s":"97%","h":"u","n":150,"v":0.0837},{"s":"97%","h":"u","n":160,"v":0.0831},{"s":"97%","h":"u","n":170,"v":0.0853},{"s":"97%","h":"u","n":180,"v":0.0872},{"s":"97%","h":"u","n":190,"v":0.0904},{"s":"97%","h":"u","n":200,"v":0.0904},{"s":"97%","h":"u","n":210,"v":0.0931},{"s":"97%","h":"u","n":220,"v":0.0939},{"s":"97%","h":"u","n":229,"v":0.0947},
{"s":"97%","h":"l","n":0,"v":0},{"s":"97%","h":"l","n":10,"v":-0.0324},{"s":"97%","h":"l","n":20,"v":-0.0418},{"s":"97%","h":"l","n":30,"v":-0.044},{"s":"97%","h":"l","n":40,"v":-0.0478},{"s":"97%","h":"l","n":50,"v":-0.0499},{"s":"97%","h":"l","n":60,"v":-0.0507},{"s":"97%","h":"l","n":70,"v":-0.0599},{"s":"97%","h":"l","n":80,"v":-0.0615},{"s":"97%","h":"l","n":90,"v":-0.0661},{"s":"97%","h":"l","n":100,"v":-0.068},{"s":"97%","h":"l","n":110,"v":-0.0696},{"s":"97%","h":"l","n":120,"v":-0.0729},{"s":"97%","h":"l","n":130,"v":-0.075},{"s":"97%","h":"l","n":140,"v":-0.0804},{"s":"97%","h":"l","n":150,"v":-0.0904},{"s":"97%","h":"l","n":160,"v":-0.0912},{"s":"97%","h":"l","n":170,"v":-0.0939},{"s":"97%","h":"l","n":180,"v":-0.0964},{"s":"97%","h":"l","n":190,"v":-0.1012},{"s":"97%","h":"l","n":200,"v":-0.1031},{"s":"97%","h":"l","n":210,"v":-0.1047},{"s":"97%","h":"l","n":220,"v":-0.1058},{"s":"97%","h":"l","n":229,"v":-0.108},
{"s":"96%","h":"u","n":0,"v":0},{"s":"96%","h":"u","n":10,"v":0.0359},{"s":"96%","h":"u","n":20,"v":0.044},{"s":"96%","h":"u","n":30,"v":0.0453},{"s":"96%","h":"u","n":40,"v":0.0494},{"s":"96%","h":"u","n":50,"v":0.0507},{"s":"96%","h":"u","n":60,"v":0.0534},{"s":"96%","h":"u","n":70,"v":0.0588},{"s":"96%","h":"u","n":80,"v":0.0602},{"s":"96%","h":"u","n":90,"v":0.0602},{"s":"96%","h":"u","n":100,"v":0.0615},{"s":"96%","h":"u","n":110,"v":0.0642},{"s":"96%","h":"u","n":120,"v":0.0683},{"s":"96%","h":"u","n":130,"v":0.0688},{"s":"96%","h":"u","n":140,"v":0.071},{"s":"96%","h":"u","n":150,"v":0.0772},{"s":"96%","h":"u","n":160,"v":0.0769},{"s":"96%","h":"u","n":170,"v":0.0785},{"s":"96%","h":"u","n":180,"v":0.0804},{"s":"96%","h":"u","n":190,"v":0.0831},{"s":"96%","h":"u","n":200,"v":0.0831},{"s":"96%","h":"u","n":210,"v":0.0864},{"s":"96%","h":"u","n":220,"v":0.0872},{"s":"96%","h":"u","n":229,"v":0.088},
{"s":"96%","h":"l","n":0,"v":0},{"s":"96%","h":"l","n":10,"v":-0.0283},{"s":"96%","h":"l","n":20,"v":-0.0378},{"s":"96%","h":"l","n":30,"v":-0.0405},{"s":"96%","h":"l","n":40,"v":-0.0432},{"s":"96%","h":"l","n":50,"v":-0.0459},{"s":"96%","h":"l","n":60,"v":-0.0464},{"s":"96%","h":"l","n":70,"v":-0.0553},{"s":"96%","h":"l","n":80,"v":-0.0567},{"s":"96%","h":"l","n":90,"v":-0.0615},{"s":"96%","h":"l","n":100,"v":-0.0634},{"s":"96%","h":"l","n":110,"v":-0.0653},{"s":"96%","h":"l","n":120,"v":-0.068},{"s":"96%","h":"l","n":130,"v":-0.0696},{"s":"96%","h":"l","n":140,"v":-0.075},{"s":"96%","h":"l","n":150,"v":-0.0831},{"s":"96%","h":"l","n":160,"v":-0.0837},{"s":"96%","h":"l","n":170,"v":-0.0869},{"s":"96%","h":"l","n":180,"v":-0.0891},{"s":"96%","h":"l","n":190,"v":-0.0937},{"s":"96%","h":"l","n":200,"v":-0.0953},{"s":"96%","h":"l","n":210,"v":-0.0977},{"s":"96%","h":"l","n":220,"v":-0.0985},{"s":"96%","h":"l","n":229,"v":-0.0999},
{"s":"95%","h":"u","n":0,"v":0},{"s":"95%","h":"u","n":10,"v":0.0318},{"s":"95%","h":"u","n":20,"v":0.0399},{"s":"95%","h":"u","n":30,"v":0.0408},{"s":"95%","h":"u","n":40,"v":0.0453},{"s":"95%","h":"u","n":50,"v":0.0459},{"s":"95%","h":"u","n":60,"v":0.0486},{"s":"95%","h":"u","n":70,"v":0.0548},{"s":"95%","h":"u","n":80,"v":0.0556},{"s":"95%","h":"u","n":90,"v":0.0553},{"s":"95%","h":"u","n":100,"v":0.0567},{"s":"95%","h":"u","n":110,"v":0.0594},{"s":"95%","h":"u","n":120,"v":0.0629},{"s":"95%","h":"u","n":130,"v":0.0634},{"s":"95%","h":"u","n":140,"v":0.0656},{"s":"95%","h":"u","n":150,"v":0.0715},{"s":"95%","h":"u","n":160,"v":0.0715},{"s":"95%","h":"u","n":170,"v":0.0723},{"s":"95%","h":"u","n":180,"v":0.0745},{"s":"95%","h":"u","n":190,"v":0.0772},{"s":"95%","h":"u","n":200,"v":0.0777},{"s":"95%","h":"u","n":210,"v":0.0799},{"s":"95%","h":"u","n":220,"v":0.081},{"s":"95%","h":"u","n":229,"v":0.0818},
{"s":"95%","h":"l","n":0,"v":0},{"s":"95%","h":"l","n":10,"v":-0.0256},{"s":"95%","h":"l","n":20,"v":-0.0329},{"s":"95%","h":"l","n":30,"v":-0.0356},{"s":"95%","h":"l","n":40,"v":-0.0386},{"s":"95%","h":"l","n":50,"v":-0.0405},{"s":"95%","h":"l","n":60,"v":-0.0432},{"s":"95%","h":"l","n":70,"v":-0.0507},{"s":"95%","h":"l","n":80,"v":-0.0526},{"s":"95%","h":"l","n":90,"v":-0.0561},{"s":"95%","h":"l","n":100,"v":-0.058},{"s":"95%","h":"l","n":110,"v":-0.0602},{"s":"95%","h":"l","n":120,"v":-0.0626},{"s":"95%","h":"l","n":130,"v":-0.064},{"s":"95%","h":"l","n":140,"v":-0.0702},{"s":"95%","h":"l","n":150,"v":-0.0777},{"s":"95%","h":"l","n":160,"v":-0.0783},{"s":"95%","h":"l","n":170,"v":-0.0815},{"s":"95%","h":"l","n":180,"v":-0.0837},{"s":"95%","h":"l","n":190,"v":-0.0883},{"s":"95%","h":"l","n":200,"v":-0.0896},{"s":"95%","h":"l","n":210,"v":-0.0912},{"s":"95%","h":"l","n":220,"v":-0.0918},{"s":"95%","h":"l","n":229,"v":-0.0931},
{"s":"90%","h":"u","n":0,"v":0},{"s":"90%","h":"u","n":10,"v":0.0216},{"s":"90%","h":"u","n":20,"v":0.0265},{"s":"90%","h":"u","n":30,"v":0.0283},{"s":"90%","h":"u","n":40,"v":0.0318},{"s":"90%","h":"u","n":50,"v":0.0327},{"s":"90%","h":"u","n":60,"v":0.0364},{"s":"90%","h":"u","n":70,"v":0.0405},{"s":"90%","h":"u","n":80,"v":0.0413},{"s":"90%","h":"u","n":90,"v":0.0421},{"s":"90%","h":"u","n":100,"v":0.0432},{"s":"90%","h":"u","n":110,"v":0.0453},{"s":"90%","h":"u","n":120,"v":0.0472},{"s":"90%","h":"u","n":130,"v":0.0475},{"s":"90%","h":"u","n":140,"v":0.0502},{"s":"90%","h":"u","n":150,"v":0.0548},{"s":"90%","h":"u","n":160,"v":0.0548},{"s":"90%","h":"u","n":170,"v":0.0556},{"s":"90%","h":"u","n":180,"v":0.057},{"s":"90%","h":"u","n":190,"v":0.0596},{"s":"90%","h":"u","n":200,"v":0.061},{"s":"90%","h":"u","n":210,"v":0.0621},{"s":"90%","h":"u","n":220,"v":0.0629},{"s":"90%","h":"u","n":229,"v":0.0634},
{"s":"90%","h":"l","n":0,"v":0},{"s":"90%","h":"l","n":10,"v":-0.017},{"s":"90%","h":"l","n":20,"v":-0.0235},{"s":"90%","h":"l","n":30,"v":-0.0256},{"s":"90%","h":"l","n":40,"v":-0.0289},{"s":"90%","h":"l","n":50,"v":-0.031},{"s":"90%","h":"l","n":60,"v":-0.0332},{"s":"90%","h":"l","n":70,"v":-0.0391},{"s":"90%","h":"l","n":80,"v":-0.0405},{"s":"90%","h":"l","n":90,"v":-0.0437},{"s":"90%","h":"l","n":100,"v":-0.0453},{"s":"90%","h":"l","n":110,"v":-0.0472},{"s":"90%","h":"l","n":120,"v":-0.0491},{"s":"90%","h":"l","n":130,"v":-0.0505},{"s":"90%","h":"l","n":140,"v":-0.0548},{"s":"90%","h":"l","n":150,"v":-0.0607},{"s":"90%","h":"l","n":160,"v":-0.0613},{"s":"90%","h":"l","n":170,"v":-0.0626},{"s":"90%","h":"l","n":180,"v":-0.0656},{"s":"90%","h":"l","n":190,"v":-0.0688},{"s":"90%","h":"l","n":200,"v":-0.0696},{"s":"90%","h":"l","n":210,"v":-0.0715},{"s":"90%","h":"l","n":220,"v":-0.0729},{"s":"90%","h":"l","n":229,"v":-0.0737},
{"s":"85%","h":"u","n":0,"v":0},{"s":"85%","h":"u","n":10,"v":0.0165},{"s":"85%","h":"u","n":20,"v":0.0205},{"s":"85%","h":"u","n":30,"v":0.0224},{"s":"85%","h":"u","n":40,"v":0.0246},{"s":"85%","h":"u","n":50,"v":0.0265},{"s":"85%","h":"u","n":60,"v":0.0291},{"s":"85%","h":"u","n":70,"v":0.0332},{"s":"85%","h":"u","n":80,"v":0.034},{"s":"85%","h":"u","n":90,"v":0.0345},{"s":"85%","h":"u","n":100,"v":0.0351},{"s":"85%","h":"u","n":110,"v":0.0372},{"s":"85%","h":"u","n":120,"v":0.0391},{"s":"85%","h":"u","n":130,"v":0.0394},{"s":"85%","h":"u","n":140,"v":0.0413},{"s":"85%","h":"u","n":150,"v":0.0453},{"s":"85%","h":"u","n":160,"v":0.0453},{"s":"85%","h":"u","n":170,"v":0.0462},{"s":"85%","h":"u","n":180,"v":0.0475},{"s":"85%","h":"u","n":190,"v":0.0494},{"s":"85%","h":"u","n":200,"v":0.0502},{"s":"85%","h":"u","n":210,"v":0.0521},{"s":"85%","h":"u","n":220,"v":0.0526},{"s":"85%","h":"u","n":229,"v":0.0529},
{"s":"85%","h":"l","n":0,"v":0},{"s":"85%","h":"l","n":10,"v":-0.0135},{"s":"85%","h":"l","n":20,"v":-0.0175},{"s":"85%","h":"l","n":30,"v":-0.0194},{"s":"85%","h":"l","n":40,"v":-0.0221},{"s":"85%","h":"l","n":50,"v":-0.0238},{"s":"85%","h":"l","n":60,"v":-0.0256},{"s":"85%","h":"l","n":70,"v":-0.031},{"s":"85%","h":"l","n":80,"v":-0.0324},{"s":"85%","h":"l","n":90,"v":-0.0364},{"s":"85%","h":"l","n":100,"v":-0.0378},{"s":"85%","h":"l","n":110,"v":-0.0397},{"s":"85%","h":"l","n":120,"v":-0.0405},{"s":"85%","h":"l","n":130,"v":-0.0413},{"s":"85%","h":"l","n":140,"v":-0.0464},{"s":"85%","h":"l","n":150,"v":-0.0507},{"s":"85%","h":"l","n":160,"v":-0.0513},{"s":"85%","h":"l","n":170,"v":-0.0518},{"s":"85%","h":"l","n":180,"v":-0.0534},{"s":"85%","h":"l","n":190,"v":-0.0567},{"s":"85%","h":"l","n":200,"v":-0.058},{"s":"85%","h":"l","n":210,"v":-0.0588},{"s":"85%","h":"l","n":220,"v":-0.0602},{"s":"85%","h":"l","n":229,"v":-0.0615},
{"s":"80%","h":"u","n":0,"v":0},{"s":"80%","h":"u","n":10,"v":0.0135},{"s":"80%","h":"u","n":20,"v":0.0165},{"s":"80%","h":"u","n":30,"v":0.0175},{"s":"80%","h":"u","n":40,"v":0.0197},{"s":"80%","h":"u","n":50,"v":0.0216},{"s":"80%","h":"u","n":60,"v":0.0246},{"s":"80%","h":"u","n":70,"v":0.0278},{"s":"80%","h":"u","n":80,"v":0.0286},{"s":"80%","h":"u","n":90,"v":0.0291},{"s":"80%","h":"u","n":100,"v":0.03},{"s":"80%","h":"u","n":110,"v":0.031},{"s":"80%","h":"u","n":120,"v":0.0327},{"s":"80%","h":"u","n":130,"v":0.0327},{"s":"80%","h":"u","n":140,"v":0.0351},{"s":"80%","h":"u","n":150,"v":0.0394},{"s":"80%","h":"u","n":160,"v":0.0394},{"s":"80%","h":"u","n":170,"v":0.0399},{"s":"80%","h":"u","n":180,"v":0.0408},{"s":"80%","h":"u","n":190,"v":0.0426},{"s":"80%","h":"u","n":200,"v":0.0426},{"s":"80%","h":"u","n":210,"v":0.0445},{"s":"80%","h":"u","n":220,"v":0.0445},{"s":"80%","h":"u","n":229,"v":0.0453},
{"s":"80%","h":"l","n":0,"v":0},{"s":"80%","h":"l","n":10,"v":-0.0116},{"s":"80%","h":"l","n":20,"v":-0.0154},{"s":"80%","h":"l","n":30,"v":-0.017},{"s":"80%","h":"l","n":40,"v":-0.0184},{"s":"80%","h":"l","n":50,"v":-0.0202},{"s":"80%","h":"l","n":60,"v":-0.0221},{"s":"80%","h":"l","n":70,"v":-0.027},{"s":"80%","h":"l","n":80,"v":-0.0283},{"s":"80%","h":"l","n":90,"v":-0.0305},{"s":"80%","h":"l","n":100,"v":-0.0316},{"s":"80%","h":"l","n":110,"v":-0.0332},{"s":"80%","h":"l","n":120,"v":-0.0337},{"s":"80%","h":"l","n":130,"v":-0.0345},{"s":"80%","h":"l","n":140,"v":-0.0386},{"s":"80%","h":"l","n":150,"v":-0.0418},{"s":"80%","h":"l","n":160,"v":-0.0426},{"s":"80%","h":"l","n":170,"v":-0.0437},{"s":"80%","h":"l","n":180,"v":-0.0451},{"s":"80%","h":"l","n":190,"v":-0.0472},{"s":"80%","h":"l","n":200,"v":-0.048},{"s":"80%","h":"l","n":210,"v":-0.0491},{"s":"80%","h":"l","n":220,"v":-0.0507},{"s":"80%","h":"l","n":229,"v":-0.0518}
],
"right": [
{"s":"100%","h":"u","n":0,"v":0},{"s":"100%","h":"u","n":10,"v":0.1645},{"s":"100%","h":"u","n":20,"v":0.1911},{"s":"100%","h":"u","n":30,"v":0.1911},{"s":"100%","h":"u","n":40,"v":0.1911},{"s":"100%","h":"u","n":50,"v":0.1911},{"s":"100%","h":"u","n":60,"v":0.1911},{"s":"100%","h":"u","n":70,"v":0.1911},{"s":"100%","h":"u","n":80,"v":0.1911},{"s":"100%","h":"u","n":90,"v":0.1972},{"s":"100%","h":"u","n":100,"v":0.1911},{"s":"100%","h":"u","n":110,"v":0.2202},{"s":"100%","h":"u","n":120,"v":0.2362},{"s":"100%","h":"u","n":130,"v":0.2533},{"s":"100%","h":"u","n":140,"v":0.2931},{"s":"100%","h":"u","n":150,"v":0.3037},{"s":"100%","h":"u","n":160,"v":0.2995},{"s":"100%","h":"u","n":170,"v":0.3002},{"s":"100%","h":"u","n":180,"v":0.3261},{"s":"100%","h":"u","n":190,"v":0.3698},{"s":"100%","h":"u","n":200,"v":0.3663},{"s":"100%","h":"u","n":210,"v":0.3787},{"s":"100%","h":"u","n":220,"v":0.3908},{"s":"100%","h":"u","n":229,"v":0.3908},
{"s":"100%","h":"l","n":0,"v":0},{"s":"100%","h":"l","n":10,"v":-0.2},{"s":"100%","h":"l","n":20,"v":-0.216},{"s":"100%","h":"l","n":30,"v":-0.216},{"s":"100%","h":"l","n":40,"v":-0.216},{"s":"100%","h":"l","n":50,"v":-0.216},{"s":"100%","h":"l","n":60,"v":-0.216},{"s":"100%","h":"l","n":70,"v":-0.216},{"s":"100%","h":"l","n":80,"v":-0.216},{"s":"100%","h":"l","n":90,"v":-0.216},{"s":"100%","h":"l","n":100,"v":-0.216},{"s":"100%","h":"l","n":110,"v":-0.2284},{"s":"100%","h":"l","n":120,"v":-0.249},{"s":"100%","h":"l","n":130,"v":-0.2433},{"s":"100%","h":"l","n":140,"v":-0.3012},{"s":"100%","h":"l","n":150,"v":-0.3119},{"s":"100%","h":"l","n":160,"v":-0.3091},{"s":"100%","h":"l","n":170,"v":-0.3101},{"s":"100%","h":"l","n":180,"v":-0.3339},{"s":"100%","h":"l","n":190,"v":-0.3492},{"s":"100%","h":"l","n":200,"v":-0.3385},{"s":"100%","h":"l","n":210,"v":-0.3663},{"s":"100%","h":"l","n":220,"v":-0.416},{"s":"100%","h":"l","n":229,"v":-0.416},
{"s":"99.875%","h":"u","n":0,"v":0},{"s":"99.875%","h":"u","n":10,"v":0.0995},{"s":"99.875%","h":"u","n":20,"v":0.119},{"s":"99.875%","h":"u","n":30,"v":0.119},{"s":"99.875%","h":"u","n":40,"v":0.1201},{"s":"99.875%","h":"u","n":50,"v":0.1211},{"s":"99.875%","h":"u","n":60,"v":0.1211},{"s":"99.875%","h":"u","n":70,"v":0.1236},{"s":"99.875%","h":"u","n":80,"v":0.1254},{"s":"99.875%","h":"u","n":90,"v":0.1282},{"s":"99.875%","h":"u","n":100,"v":0.1325},{"s":"99.875%","h":"u","n":110,"v":0.1389},{"s":"99.875%","h":"u","n":120,"v":0.1485},{"s":"99.875%","h":"u","n":130,"v":0.151},{"s":"99.875%","h":"u","n":140,"v":0.1591},{"s":"99.875%","h":"u","n":150,"v":0.1805},{"s":"99.875%","h":"u","n":160,"v":0.1847},{"s":"99.875%","h":"u","n":170,"v":0.1947},{"s":"99.875%","h":"u","n":180,"v":0.2007},{"s":"99.875%","h":"u","n":190,"v":0.2178},{"s":"99.875%","h":"u","n":200,"v":0.232},{"s":"99.875%","h":"u","n":210,"v":0.238},{"s":"99.875%","h":"u","n":220,"v":0.2391},{"s":"99.875%","h":"u","n":229,"v":0.2391},
{"s":"99.875%","h":"l","n":0,"v":0},{"s":"99.875%","h":"l","n":10,"v":-0.1272},{"s":"99.875%","h":"l","n":20,"v":-0.146},{"s":"99.875%","h":"l","n":30,"v":-0.146},{"s":"99.875%","h":"l","n":40,"v":-0.1474},{"s":"99.875%","h":"l","n":50,"v":-0.1467},{"s":"99.875%","h":"l","n":60,"v":-0.1478},{"s":"99.875%","h":"l","n":70,"v":-0.1478},{"s":"99.875%","h":"l","n":80,"v":-0.1485},{"s":"99.875%","h":"l","n":90,"v":-0.1485},{"s":"99.875%","h":"l","n":100,"v":-0.1485},{"s":"99.875%","h":"l","n":110,"v":-0.1528},{"s":"99.875%","h":"l","n":120,"v":-0.1556},{"s":"99.875%","h":"l","n":130,"v":-0.1574},{"s":"99.875%","h":"l","n":140,"v":-0.162},{"s":"99.875%","h":"l","n":150,"v":-0.1673},{"s":"99.875%","h":"l","n":160,"v":-0.1741},{"s":"99.875%","h":"l","n":170,"v":-0.1794},{"s":"99.875%","h":"l","n":180,"v":-0.1833},{"s":"99.875%","h":"l","n":190,"v":-0.1911},{"s":"99.875%","h":"l","n":200,"v":-0.1982},{"s":"99.875%","h":"l","n":210,"v":-0.2124},{"s":"99.875%","h":"l","n":220,"v":-0.216},{"s":"99.875%","h":"l","n":229,"v":-0.216},
{"s":"99.75%","h":"u","n":0,"v":0},{"s":"99.75%","h":"u","n":10,"v":0.0906},{"s":"99.75%","h":"u","n":20,"v":0.1041},{"s":"99.75%","h":"u","n":30,"v":0.1041},{"s":"99.75%","h":"u","n":40,"v":0.1076},{"s":"99.75%","h":"u","n":50,"v":0.1094},{"s":"99.75%","h":"u","n":60,"v":0.1094},{"s":"99.75%","h":"u","n":70,"v":0.113},{"s":"99.75%","h":"u","n":80,"v":0.114},{"s":"99.75%","h":"u","n":90,"v":0.1183},{"s":"99.75%","h":"u","n":100,"v":0.1218},{"s":"99.75%","h":"u","n":110,"v":0.1265},{"s":"99.75%","h":"u","n":120,"v":0.1343},{"s":"99.75%","h":"u","n":130,"v":0.1361},{"s":"99.75%","h":"u","n":140,"v":0.1432},{"s":"99.75%","h":"u","n":150,"v":0.1602},{"s":"99.75%","h":"u","n":160,"v":0.1645},{"s":"99.75%","h":"u","n":170,"v":0.1734},{"s":"99.75%","h":"u","n":180,"v":0.1805},{"s":"99.75%","h":"u","n":190,"v":0.194},{"s":"99.75%","h":"u","n":200,"v":0.2018},{"s":"99.75%","h":"u","n":210,"v":0.2082},{"s":"99.75%","h":"u","n":220,"v":0.2089},{"s":"99.75%","h":"u","n":229,"v":0.2089},
{"s":"99.75%","h":"l","n":0,"v":0},{"s":"99.75%","h":"l","n":10,"v":-0.1155},{"s":"99.75%","h":"l","n":20,"v":-0.1279},{"s":"99.75%","h":"l","n":30,"v":-0.1279},{"s":"99.75%","h":"l","n":40,"v":-0.1307},{"s":"99.75%","h":"l","n":50,"v":-0.1307},{"s":"99.75%","h":"l","n":60,"v":-0.1318},{"s":"99.75%","h":"l","n":70,"v":-0.1318},{"s":"99.75%","h":"l","n":80,"v":-0.1336},{"s":"99.75%","h":"l","n":90,"v":-0.1336},{"s":"99.75%","h":"l","n":100,"v":-0.1343},{"s":"99.75%","h":"l","n":110,"v":-0.1403},{"s":"99.75%","h":"l","n":120,"v":-0.1414},{"s":"99.75%","h":"l","n":130,"v":-0.1432},{"s":"99.75%","h":"l","n":140,"v":-0.1467},{"s":"99.75%","h":"l","n":150,"v":-0.1503},{"s":"99.75%","h":"l","n":160,"v":-0.1567},{"s":"99.75%","h":"l","n":170,"v":-0.1599},{"s":"99.75%","h":"l","n":180,"v":-0.1634},{"s":"99.75%","h":"l","n":190,"v":-0.1709},{"s":"99.75%","h":"l","n":200,"v":-0.1769},{"s":"99.75%","h":"l","n":210,"v":-0.1865},{"s":"99.75%","h":"l","n":220,"v":-0.19},{"s":"99.75%","h":"l","n":229,"v":-0.19},
{"s":"99.5%","h":"u","n":0,"v":0},{"s":"99.5%","h":"u","n":10,"v":0.0792},{"s":"99.5%","h":"u","n":20,"v":0.0917},{"s":"99.5%","h":"u","n":30,"v":0.0924},{"s":"99.5%","h":"u","n":40,"v":0.0959},{"s":"99.5%","h":"u","n":50,"v":0.0963},{"s":"99.5%","h":"u","n":60,"v":0.0963},{"s":"99.5%","h":"u","n":70,"v":0.0988},{"s":"99.5%","h":"u","n":80,"v":0.1005},{"s":"99.5%","h":"u","n":90,"v":0.1059},{"s":"99.5%","h":"u","n":100,"v":0.1076},{"s":"99.5%","h":"u","n":110,"v":0.113},{"s":"99.5%","h":"u","n":120,"v":0.119},{"s":"99.5%","h":"u","n":130,"v":0.1201},{"s":"99.5%","h":"u","n":140,"v":0.1265},{"s":"99.5%","h":"u","n":150,"v":0.1414},{"s":"99.5%","h":"u","n":160,"v":0.1449},{"s":"99.5%","h":"u","n":170,"v":0.151},{"s":"99.5%","h":"u","n":180,"v":0.1581},{"s":"99.5%","h":"u","n":190,"v":0.167},{"s":"99.5%","h":"u","n":200,"v":0.1734},{"s":"99.5%","h":"u","n":210,"v":0.1794},{"s":"99.5%","h":"u","n":220,"v":0.1805},{"s":"99.5%","h":"u","n":229,"v":0.1805},
{"s":"99.5%","h":"l","n":0,"v":0},{"s":"99.5%","h":"l","n":10,"v":-0.0977},{"s":"99.5%","h":"l","n":20,"v":-0.1119},{"s":"99.5%","h":"l","n":30,"v":-0.1119},{"s":"99.5%","h":"l","n":40,"v":-0.1165},{"s":"99.5%","h":"l","n":50,"v":-0.1165},{"s":"99.5%","h":"l","n":60,"v":-0.1176},{"s":"99.5%","h":"l","n":70,"v":-0.1183},{"s":"99.5%","h":"l","n":80,"v":-0.119},{"s":"99.5%","h":"l","n":90,"v":-0.1194},{"s":"99.5%","h":"l","n":100,"v":-0.1208},{"s":"99.5%","h":"l","n":110,"v":-0.1236},{"s":"99.5%","h":"l","n":120,"v":-0.1265},{"s":"99.5%","h":"l","n":130,"v":-0.1272},{"s":"99.5%","h":"l","n":140,"v":-0.13},{"s":"99.5%","h":"l","n":150,"v":-0.1353},{"s":"99.5%","h":"l","n":160,"v":-0.1385},{"s":"99.5%","h":"l","n":170,"v":-0.1414},{"s":"99.5%","h":"l","n":180,"v":-0.1449},{"s":"99.5%","h":"l","n":190,"v":-0.1492},{"s":"99.5%","h":"l","n":200,"v":-0.152},{"s":"99.5%","h":"l","n":210,"v":-0.1581},{"s":"99.5%","h":"l","n":220,"v":-0.1602},{"s":"99.5%","h":"l","n":229,"v":-0.1609},
{"s":"99%","h":"u","n":0,"v":0},{"s":"99%","h":"u","n":10,"v":0.0661},{"s":"99%","h":"u","n":20,"v":0.0785},{"s":"99%","h":"u","n":30,"v":0.0803},{"s":"99%","h":"u","n":40,"v":0.0845},{"s":"99%","h":"u","n":50,"v":0.0856},{"s":"99%","h":"u","n":60,"v":0.0856},{"s":"99%","h":"u","n":70,"v":0.0881},{"s":"99%","h":"u","n":80,"v":0.0899},{"s":"99%","h":"u","n":90,"v":0.0934},{"s":"99%","h":"u","n":100,"v":0.0941},{"s":"99%","h":"u","n":110,"v":0.097},{"s":"99%","h":"u","n":120,"v":0.1005},{"s":"99%","h":"u","n":130,"v":0.1023},{"s":"99%","h":"u","n":140,"v":0.1083},{"s":"99%","h":"u","n":150,"v":0.1208},{"s":"99%","h":"u","n":160,"v":0.1243},{"s":"99%","h":"u","n":170,"v":0.1279},{"s":"99%","h":"u","n":180,"v":0.1307},{"s":"99%","h":"u","n":190,"v":0.1385},{"s":"99%","h":"u","n":200,"v":0.1439},{"s":"99%","h":"u","n":210,"v":0.1485},{"s":"99%","h":"u","n":220,"v":0.1496},{"s":"99%","h":"u","n":229,"v":0.1496},
{"s":"99%","h":"l","n":0,"v":0},{"s":"99%","h":"l","n":10,"v":-0.0838},{"s":"99%","h":"l","n":20,"v":-0.0941},{"s":"99%","h":"l","n":30,"v":-0.0952},{"s":"99%","h":"l","n":40,"v":-0.1005},{"s":"99%","h":"l","n":50,"v":-0.1016},{"s":"99%","h":"l","n":60,"v":-0.1023},{"s":"99%","h":"l","n":70,"v":-0.1023},{"s":"99%","h":"l","n":80,"v":-0.1034},{"s":"99%","h":"l","n":90,"v":-0.1048},{"s":"99%","h":"l","n":100,"v":-0.1059},{"s":"99%","h":"l","n":110,"v":-0.1083},{"s":"99%","h":"l","n":120,"v":-0.1101},{"s":"99%","h":"l","n":130,"v":-0.1105},{"s":"99%","h":"l","n":140,"v":-0.1137},{"s":"99%","h":"l","n":150,"v":-0.119},{"s":"99%","h":"l","n":160,"v":-0.1208},{"s":"99%","h":"l","n":170,"v":-0.1236},{"s":"99%","h":"l","n":180,"v":-0.1254},{"s":"99%","h":"l","n":190,"v":-0.129},{"s":"99%","h":"l","n":200,"v":-0.1314},{"s":"99%","h":"l","n":210,"v":-0.1361},{"s":"99%","h":"l","n":220,"v":-0.1378},{"s":"99%","h":"l","n":229,"v":-0.1385},
{"s":"98%","h":"u","n":0,"v":0},{"s":"98%","h":"u","n":10,"v":0.0568},{"s":"98%","h":"u","n":20,"v":0.0643},{"s":"98%","h":"u","n":30,"v":0.0668},{"s":"98%","h":"u","n":40,"v":0.0721},{"s":"98%","h":"u","n":50,"v":0.0728},{"s":"98%","h":"u","n":60,"v":0.0728},{"s":"98%","h":"u","n":70,"v":0.0757},{"s":"98%","h":"u","n":80,"v":0.0774},{"s":"98%","h":"u","n":90,"v":0.0799},{"s":"98%","h":"u","n":100,"v":0.0803},{"s":"98%","h":"u","n":110,"v":0.0838},{"s":"98%","h":"u","n":120,"v":0.0863},{"s":"98%","h":"u","n":130,"v":0.087},{"s":"98%","h":"u","n":140,"v":0.0917},{"s":"98%","h":"u","n":150,"v":0.1005},{"s":"98%","h":"u","n":160,"v":0.103},{"s":"98%","h":"u","n":170,"v":0.1052},{"s":"98%","h":"u","n":180,"v":0.1076},{"s":"98%","h":"u","n":190,"v":0.1137},{"s":"98%","h":"u","n":200,"v":0.1165},{"s":"98%","h":"u","n":210,"v":0.1194},{"s":"98%","h":"u","n":220,"v":0.1201},{"s":"98%","h":"u","n":229,"v":0.1208},
{"s":"98%","h":"l","n":0,"v":0},{"s":"98%","h":"l","n":10,"v":-0.0686},{"s":"98%","h":"l","n":20,"v":-0.0767},{"s":"98%","h":"l","n":30,"v":-0.0785},{"s":"98%","h":"l","n":40,"v":-0.0835},{"s":"98%","h":"l","n":50,"v":-0.0845},{"s":"98%","h":"l","n":60,"v":-0.0856},{"s":"98%","h":"l","n":70,"v":-0.087},{"s":"98%","h":"l","n":80,"v":-0.0881},{"s":"98%","h":"l","n":90,"v":-0.0892},{"s":"98%","h":"l","n":100,"v":-0.0899},{"s":"98%","h":"l","n":110,"v":-0.0917},{"s":"98%","h":"l","n":120,"v":-0.0934},{"s":"98%","h":"l","n":130,"v":-0.0941},{"s":"98%","h":"l","n":140,"v":-0.097},{"s":"98%","h":"l","n":150,"v":-0.1023},{"s":"98%","h":"l","n":160,"v":-0.1034},{"s":"98%","h":"l","n":170,"v":-0.1052},{"s":"98%","h":"l","n":180,"v":-0.1069},{"s":"98%","h":"l","n":190,"v":-0.1094},{"s":"98%","h":"l","n":200,"v":-0.1112},{"s":"98%","h":"l","n":210,"v":-0.1137},{"s":"98%","h":"l","n":220,"v":-0.1155},{"s":"98%","h":"l","n":229,"v":-0.1165},
{"s":"97%","h":"u","n":0,"v":0},{"s":"97%","h":"u","n":10,"v":0.0497},{"s":"97%","h":"u","n":20,"v":0.0561},{"s":"97%","h":"u","n":30,"v":0.0597},{"s":"97%","h":"u","n":40,"v":0.0643},{"s":"97%","h":"u","n":50,"v":0.0661},{"s":"97%","h":"u","n":60,"v":0.0668},{"s":"97%","h":"u","n":70,"v":0.0686},{"s":"97%","h":"u","n":80,"v":0.0693},{"s":"97%","h":"u","n":90,"v":0.0721},{"s":"97%","h":"u","n":100,"v":0.0728},{"s":"97%","h":"u","n":110,"v":0.0746},{"s":"97%","h":"u","n":120,"v":0.0767},{"s":"97%","h":"u","n":130,"v":0.0774},{"s":"97%","h":"u","n":140,"v":0.0817},{"s":"97%","h":"u","n":150,"v":0.0899},{"s":"97%","h":"u","n":160,"v":0.0917},{"s":"97%","h":"u","n":170,"v":0.0934},{"s":"97%","h":"u","n":180,"v":0.0945},{"s":"97%","h":"u","n":190,"v":0.0977},{"s":"97%","h":"u","n":200,"v":0.0995},{"s":"97%","h":"u","n":210,"v":0.1016},{"s":"97%","h":"u","n":220,"v":0.103},{"s":"97%","h":"u","n":229,"v":0.1041},
{"s":"97%","h":"l","n":0,"v":0},{"s":"97%","h":"l","n":10,"v":-0.0579},{"s":"97%","h":"l","n":20,"v":-0.0668},{"s":"97%","h":"l","n":30,"v":-0.0693},{"s":"97%","h":"l","n":40,"v":-0.0739},{"s":"97%","h":"l","n":50,"v":-0.0757},{"s":"97%","h":"l","n":60,"v":-0.0764},{"s":"97%","h":"l","n":70,"v":-0.0774},{"s":"97%","h":"l","n":80,"v":-0.0785},{"s":"97%","h":"l","n":90,"v":-0.0792},{"s":"97%","h":"l","n":100,"v":-0.0803},{"s":"97%","h":"l","n":110,"v":-0.0821},{"s":"97%","h":"l","n":120,"v":-0.0835},{"s":"97%","h":"l","n":130,"v":-0.0838},{"s":"97%","h":"l","n":140,"v":-0.0874},{"s":"97%","h":"l","n":150,"v":-0.0927},{"s":"97%","h":"l","n":160,"v":-0.0934},{"s":"97%","h":"l","n":170,"v":-0.0952},{"s":"97%","h":"l","n":180,"v":-0.0963},{"s":"97%","h":"l","n":190,"v":-0.098},{"s":"97%","h":"l","n":200,"v":-0.0998},{"s":"97%","h":"l","n":210,"v":-0.1016},{"s":"97%","h":"l","n":220,"v":-0.1023},{"s":"97%","h":"l","n":229,"v":-0.103},
{"s":"96%","h":"u","n":0,"v":0},{"s":"96%","h":"u","n":10,"v":0.0437},{"s":"96%","h":"u","n":20,"v":0.0515},{"s":"96%","h":"u","n":30,"v":0.0551},{"s":"96%","h":"u","n":40,"v":0.0586},{"s":"96%","h":"u","n":50,"v":0.059},{"s":"96%","h":"u","n":60,"v":0.0597},{"s":"96%","h":"u","n":70,"v":0.0622},{"s":"96%","h":"u","n":80,"v":0.0639},{"s":"96%","h":"u","n":90,"v":0.0661},{"s":"96%","h":"u","n":100,"v":0.0668},{"s":"96%","h":"u","n":110,"v":0.0686},{"s":"96%","h":"u","n":120,"v":0.0696},{"s":"96%","h":"u","n":130,"v":0.0703},{"s":"96%","h":"u","n":140,"v":0.0757},{"s":"96%","h":"u","n":150,"v":0.0821},{"s":"96%","h":"u","n":160,"v":0.0835},{"s":"96%","h":"u","n":170,"v":0.0845},{"s":"96%","h":"u","n":180,"v":0.0856},{"s":"96%","h":"u","n":190,"v":0.0888},{"s":"96%","h":"u","n":200,"v":0.0899},{"s":"96%","h":"u","n":210,"v":0.0917},{"s":"96%","h":"u","n":220,"v":0.0927},{"s":"96%","h":"u","n":229,"v":0.0934},
{"s":"96%","h":"l","n":0,"v":0},{"s":"96%","h":"l","n":10,"v":-0.0526},{"s":"96%","h":"l","n":20,"v":-0.0597},{"s":"96%","h":"l","n":30,"v":-0.0615},{"s":"96%","h":"l","n":40,"v":-0.0679},{"s":"96%","h":"l","n":50,"v":-0.0686},{"s":"96%","h":"l","n":60,"v":-0.0693},{"s":"96%","h":"l","n":70,"v":-0.0703},{"s":"96%","h":"l","n":80,"v":-0.071},{"s":"96%","h":"l","n":90,"v":-0.0721},{"s":"96%","h":"l","n":100,"v":-0.0728},{"s":"96%","h":"l","n":110,"v":-0.0739},{"s":"96%","h":"l","n":120,"v":-0.0757},{"s":"96%","h":"l","n":130,"v":-0.0764},{"s":"96%","h":"l","n":140,"v":-0.0799},{"s":"96%","h":"l","n":150,"v":-0.0845},{"s":"96%","h":"l","n":160,"v":-0.0856},{"s":"96%","h":"l","n":170,"v":-0.087},{"s":"96%","h":"l","n":180,"v":-0.0881},{"s":"96%","h":"l","n":190,"v":-0.0899},{"s":"96%","h":"l","n":200,"v":-0.0909},{"s":"96%","h":"l","n":210,"v":-0.0924},{"s":"96%","h":"l","n":220,"v":-0.0934},{"s":"96%","h":"l","n":229,"v":-0.0941},
{"s":"95%","h":"u","n":0,"v":0},{"s":"95%","h":"u","n":10,"v":0.0384},{"s":"95%","h":"u","n":20,"v":0.0465},{"s":"95%","h":"u","n":30,"v":0.0501},{"s":"95%","h":"u","n":40,"v":0.0544},{"s":"95%","h":"u","n":50,"v":0.0544},{"s":"95%","h":"u","n":60,"v":0.0551},{"s":"95%","h":"u","n":70,"v":0.0579},{"s":"95%","h":"u","n":80,"v":0.0597},{"s":"95%","h":"u","n":90,"v":0.0615},{"s":"95%","h":"u","n":100,"v":0.0625},{"s":"95%","h":"u","n":110,"v":0.0639},{"s":"95%","h":"u","n":120,"v":0.0657},{"s":"95%","h":"u","n":130,"v":0.0661},{"s":"95%","h":"u","n":140,"v":0.0703},{"s":"95%","h":"u","n":150,"v":0.0764},{"s":"95%","h":"u","n":160,"v":0.0774},{"s":"95%","h":"u","n":170,"v":0.0785},{"s":"95%","h":"u","n":180,"v":0.0799},{"s":"95%","h":"u","n":190,"v":0.081},{"s":"95%","h":"u","n":200,"v":0.0821},{"s":"95%","h":"u","n":210,"v":0.0838},{"s":"95%","h":"u","n":220,"v":0.0845},{"s":"95%","h":"u","n":229,"v":0.0853},
{"s":"95%","h":"l","n":0,"v":0},{"s":"95%","h":"l","n":10,"v":-0.0444},{"s":"95%","h":"l","n":20,"v":-0.0526},{"s":"95%","h":"l","n":30,"v":-0.0551},{"s":"95%","h":"l","n":40,"v":-0.0604},{"s":"95%","h":"l","n":50,"v":-0.0615},{"s":"95%","h":"l","n":60,"v":-0.0625},{"s":"95%","h":"l","n":70,"v":-0.0643},{"s":"95%","h":"l","n":80,"v":-0.0657},{"s":"95%","h":"l","n":90,"v":-0.0657},{"s":"95%","h":"l","n":100,"v":-0.0668},{"s":"95%","h":"l","n":110,"v":-0.0686},{"s":"95%","h":"l","n":120,"v":-0.0696},{"s":"95%","h":"l","n":130,"v":-0.0703},{"s":"95%","h":"l","n":140,"v":-0.0732},{"s":"95%","h":"l","n":150,"v":-0.0785},{"s":"95%","h":"l","n":160,"v":-0.0792},{"s":"95%","h":"l","n":170,"v":-0.0803},{"s":"95%","h":"l","n":180,"v":-0.0817},{"s":"95%","h":"l","n":190,"v":-0.0835},{"s":"95%","h":"l","n":200,"v":-0.0845},{"s":"95%","h":"l","n":210,"v":-0.0856},{"s":"95%","h":"l","n":220,"v":-0.0863},{"s":"95%","h":"l","n":229,"v":-0.087},
{"s":"90%","h":"u","n":0,"v":0},{"s":"90%","h":"u","n":10,"v":0.0266},{"s":"90%","h":"u","n":20,"v":0.033},{"s":"90%","h":"u","n":30,"v":0.0359},{"s":"90%","h":"u","n":40,"v":0.0394},{"s":"90%","h":"u","n":50,"v":0.0401},{"s":"90%","h":"u","n":60,"v":0.0412},{"s":"90%","h":"u","n":70,"v":0.0444},{"s":"90%","h":"u","n":80,"v":0.0455},{"s":"90%","h":"u","n":90,"v":0.048},{"s":"90%","h":"u","n":100,"v":0.0483},{"s":"90%","h":"u","n":110,"v":0.0497},{"s":"90%","h":"u","n":120,"v":0.0508},{"s":"90%","h":"u","n":130,"v":0.0515},{"s":"90%","h":"u","n":140,"v":0.0551},{"s":"90%","h":"u","n":150,"v":0.0586},{"s":"90%","h":"u","n":160,"v":0.0586},{"s":"90%","h":"u","n":170,"v":0.059},{"s":"90%","h":"u","n":180,"v":0.0597},{"s":"90%","h":"u","n":190,"v":0.0597},{"s":"90%","h":"u","n":200,"v":0.0607},{"s":"90%","h":"u","n":210,"v":0.0615},{"s":"90%","h":"u","n":220,"v":0.0622},{"s":"90%","h":"u","n":229,"v":0.0632},
{"s":"90%","h":"l","n":0,"v":0},{"s":"90%","h":"l","n":10,"v":-0.0295},{"s":"90%","h":"l","n":20,"v":-0.0355},{"s":"90%","h":"l","n":30,"v":-0.0384},{"s":"90%","h":"l","n":40,"v":-0.0419},{"s":"90%","h":"l","n":50,"v":-0.0426},{"s":"90%","h":"l","n":60,"v":-0.0444},{"s":"90%","h":"l","n":70,"v":-0.0462},{"s":"90%","h":"l","n":80,"v":-0.048},{"s":"90%","h":"l","n":90,"v":-0.049},{"s":"90%","h":"l","n":100,"v":-0.049},{"s":"90%","h":"l","n":110,"v":-0.0508},{"s":"90%","h":"l","n":120,"v":-0.0519},{"s":"90%","h":"l","n":130,"v":-0.0526},{"s":"90%","h":"l","n":140,"v":-0.0561},{"s":"90%","h":"l","n":150,"v":-0.0604},{"s":"90%","h":"l","n":160,"v":-0.0607},{"s":"90%","h":"l","n":170,"v":-0.0615},{"s":"90%","h":"l","n":180,"v":-0.0622},{"s":"90%","h":"l","n":190,"v":-0.0632},{"s":"90%","h":"l","n":200,"v":-0.0632},{"s":"90%","h":"l","n":210,"v":-0.0639},{"s":"90%","h":"l","n":220,"v":-0.0643},{"s":"90%","h":"l","n":229,"v":-0.0657},
{"s":"85%","h":"u","n":0,"v":0},{"s":"85%","h":"u","n":10,"v":0.0206},{"s":"85%","h":"u","n":20,"v":0.0252},{"s":"85%","h":"u","n":30,"v":0.0277},{"s":"85%","h":"u","n":40,"v":0.0302},{"s":"85%","h":"u","n":50,"v":0.0306},{"s":"85%","h":"u","n":60,"v":0.0323},{"s":"85%","h":"u","n":70,"v":0.0359},{"s":"85%","h":"u","n":80,"v":0.0373},{"s":"85%","h":"u","n":90,"v":0.0391},{"s":"85%","h":"u","n":100,"v":0.0391},{"s":"85%","h":"u","n":110,"v":0.0409},{"s":"85%","h":"u","n":120,"v":0.0419},{"s":"85%","h":"u","n":130,"v":0.0419},{"s":"85%","h":"u","n":140,"v":0.0455},{"s":"85%","h":"u","n":150,"v":0.048},{"s":"85%","h":"u","n":160,"v":0.048},{"s":"85%","h":"u","n":170,"v":0.0483},{"s":"85%","h":"u","n":180,"v":0.0483},{"s":"85%","h":"u","n":190,"v":0.049},{"s":"85%","h":"u","n":200,"v":0.049},{"s":"85%","h":"u","n":210,"v":0.0497},{"s":"85%","h":"u","n":220,"v":0.0497},{"s":"85%","h":"u","n":229,"v":0.0508},
{"s":"85%","h":"l","n":0,"v":0},{"s":"85%","h":"l","n":10,"v":-0.0213},{"s":"85%","h":"l","n":20,"v":-0.0266},{"s":"85%","h":"l","n":30,"v":-0.0284},{"s":"85%","h":"l","n":40,"v":-0.0306},{"s":"85%","h":"l","n":50,"v":-0.032},{"s":"85%","h":"l","n":60,"v":-0.033},{"s":"85%","h":"l","n":70,"v":-0.0366},{"s":"85%","h":"l","n":80,"v":-0.0384},{"s":"85%","h":"l","n":90,"v":-0.0384},{"s":"85%","h":"l","n":100,"v":-0.0394},{"s":"85%","h":"l","n":110,"v":-0.0401},{"s":"85%","h":"l","n":120,"v":-0.0419},{"s":"85%","h":"l","n":130,"v":-0.0426},{"s":"85%","h":"l","n":140,"v":-0.0455},{"s":"85%","h":"l","n":150,"v":-0.049},{"s":"85%","h":"l","n":160,"v":-0.0501},{"s":"85%","h":"l","n":170,"v":-0.0501},{"s":"85%","h":"l","n":180,"v":-0.0508},{"s":"85%","h":"l","n":190,"v":-0.0515},{"s":"85%","h":"l","n":200,"v":-0.0519},{"s":"85%","h":"l","n":210,"v":-0.0526},{"s":"85%","h":"l","n":220,"v":-0.0526},{"s":"85%","h":"l","n":229,"v":-0.0533},
{"s":"80%","h":"u","n":0,"v":0},{"s":"80%","h":"u","n":10,"v":0.016},{"s":"80%","h":"u","n":20,"v":0.0195},{"s":"80%","h":"u","n":30,"v":0.0213},{"s":"80%","h":"u","n":40,"v":0.0242},{"s":"80%","h":"u","n":50,"v":0.0242},{"s":"80%","h":"u","n":60,"v":0.0259},{"s":"80%","h":"u","n":70,"v":0.0295},{"s":"80%","h":"u","n":80,"v":0.0306},{"s":"80%","h":"u","n":90,"v":0.0323},{"s":"80%","h":"u","n":100,"v":0.0323},{"s":"80%","h":"u","n":110,"v":0.0337},{"s":"80%","h":"u","n":120,"v":0.0348},{"s":"80%","h":"u","n":130,"v":0.0355},{"s":"80%","h":"u","n":140,"v":0.0384},{"s":"80%","h":"u","n":150,"v":0.0401},{"s":"80%","h":"u","n":160,"v":0.0401},{"s":"80%","h":"u","n":170,"v":0.0409},{"s":"80%","h":"u","n":180,"v":0.0409},{"s":"80%","h":"u","n":190,"v":0.0409},{"s":"80%","h":"u","n":200,"v":0.0409},{"s":"80%","h":"u","n":210,"v":0.0412},{"s":"80%","h":"u","n":220,"v":0.0419},{"s":"80%","h":"u","n":229,"v":0.0426},
{"s":"80%","h":"l","n":0,"v":0},{"s":"80%","h":"l","n":10,"v":-0.0153},{"s":"80%","h":"l","n":20,"v":-0.0188},{"s":"80%","h":"l","n":30,"v":-0.0206},{"s":"80%","h":"l","n":40,"v":-0.0224},{"s":"80%","h":"l","n":50,"v":-0.0234},{"s":"80%","h":"l","n":60,"v":-0.0252},{"s":"80%","h":"l","n":70,"v":-0.0288},{"s":"80%","h":"l","n":80,"v":-0.0295},{"s":"80%","h":"l","n":90,"v":-0.0306},{"s":"80%","h":"l","n":100,"v":-0.032},{"s":"80%","h":"l","n":110,"v":-0.0337},{"s":"80%","h":"l","n":120,"v":-0.0341},{"s":"80%","h":"l","n":130,"v":-0.0348},{"s":"80%","h":"l","n":140,"v":-0.0373},{"s":"80%","h":"l","n":150,"v":-0.0412},{"s":"80%","h":"l","n":160,"v":-0.0412},{"s":"80%","h":"l","n":170,"v":-0.0412},{"s":"80%","h":"l","n":180,"v":-0.0419},{"s":"80%","h":"l","n":190,"v":-0.0419},{"s":"80%","h":"l","n":200,"v":-0.0419},{"s":"80%","h":"l","n":210,"v":-0.0426},{"s":"80%","h":"l","n":220,"v":-0.0426},{"s":"80%","h":"l","n":229,"v":-0.0437}
]
},
"vconcat": [
{
"hconcat": [
{
 "width": 647, "height": 884,
 "data": {"name": "h1"},
 "title": {"text": "realer Fall"},
 "mark": {"type": "bar", "width": 3, "stroke": "#333333", "strokeWidth": 0.6},
 "encoding": {
  "x": {"field": "x", "type": "quantitative", "scale": {"domain": [0.987, 1.0], "nice": false, "zero": false},
        "axis": {"values": [0.987,0.988,0.989,0.99,0.991,0.992,0.993,0.994,0.995,0.996,0.997,0.998,0.999,1.0], "labelExpr": "round(datum.value*1000) % 2 == 0 ? format(datum.value, '~g') : ''", "labelFontSize": 25, "tickSize": -10, "labelPadding": 22,
                 "title": ["Spannung in pu", "(vₘᵢₙ = 0,98803)"], "titleFontSize": 54, "titleY": 121, "titleBaseline": "alphabetic", "titleLineHeight": 74}},
  "y": {"field": "n", "type": "quantitative", "scale": {"domain": [0, 8000], "nice": false},
        "axis": {"values": [0,1000,2000,3000,4000,5000,6000,7000,8000], "format": "d", "labelFontSize": 25, "tickSize": -10, "labelPadding": 18, "title": null}},
  "color": {"field": "k", "type": "nominal", "scale": {"domain": [0,1,2,3,4,5,6,7,8,9,10,11,12], "range": ["#2E2A7E","#2446C6","#0B66DA","#1486D6","#179CCC","#0FAAB4","#3BB69A","#6CBA7E","#9FB862","#C9B34B","#F2B23C","#FDC72C","#F8F617"]}, "legend": null}
 }
},
{"width": 203, "height": 884, "data": {"values": []}, "mark": {"type": "point"}, "encoding": {}, "view": {"stroke": null, "fill": null}},
{
 "width": 648, "height": 884,
 "data": {"name": "h2"},
 "title": {"text": "generierter Fall"},
 "mark": {"type": "bar", "width": 3, "stroke": "#333333", "strokeWidth": 0.6},
 "encoding": {
  "x": {"field": "x", "type": "quantitative", "scale": {"domain": [0.987, 1.0], "nice": false, "zero": false},
        "axis": {"values": [0.987,0.988,0.989,0.99,0.991,0.992,0.993,0.994,0.995,0.996,0.997,0.998,0.999,1.0], "labelExpr": "round(datum.value*1000) % 2 == 0 ? format(datum.value, '~g') : ''", "labelFontSize": 25, "tickSize": -10, "labelPadding": 22,
                 "title": ["Spannung in pu", "(vₘᵢₙ = 0,98756)"], "titleFontSize": 54, "titleY": 121, "titleBaseline": "alphabetic", "titleLineHeight": 74}},
  "y": {"field": "n", "type": "quantitative", "scale": {"domain": [0, 8000], "nice": false},
        "axis": {"values": [0,1000,2000,3000,4000,5000,6000,7000,8000], "format": "d", "labelFontSize": 25, "tickSize": -10, "labelPadding": 18, "title": null}},
  "color": {"field": "k", "type": "nominal", "scale": {"domain": [0,1,2,3,4,5,6,7,8,9,10,11,12], "range": ["#2E2A7E","#2446C6","#0B66DA","#1486D6","#179CCC","#0FAAB4","#3BB69A","#6CBA7E","#9FB862","#C9B34B","#F2B23C","#FDC72C","#F8F617"]}, "legend": null}
 }
},
{"width": 164, "height": 884, "data": {"values": []}, "mark": {"type": "point"}, "encoding": {}, "view": {"stroke": null, "fill": null}},
{
 "width": 646, "height": 884,
 "data": {"name": "h3"},
 "title": {"text": "realer Fall"},
 "mark": {"type": "bar", "width": 2.4},
 "encoding": {
  "x": {"field": "x", "type": "quantitative", "scale": {"domain": [0, 18], "nice": false, "zero": false},
        "axis": {"values": [0,1,2,3,4,5,6,7,8,9,10,11,12,13,14,15,16,17,18], "format": "d", "labelFontSize": 25, "tickSize": -10, "labelPadding": 22,
                 "title": ["Leitungsbelastung in %", "(lbₘₐₓ = 17,1459%)"], "titleFontSize": 54, "titleY": 121, "titleBaseline": "alphabetic", "titleLineHeight": 74}},
  "y": {"field": "n", "type": "quantitative", "scale": {"domain": [0, 8000], "nice": false},
        "axis": {"values": [0,1000,2000,3000,4000,5000,6000,7000,8000], "format": "d", "labelFontSize": 25, "tickSize": -10, "labelPadding": 18, "title": null}},
  "color": {"field": "k", "type": "nominal", "scale": {"domain": [0,1,2,3,4,5,6,7,8,9,10,11,12], "range": ["#2E2A7E","#2446C6","#0B66DA","#1486D6","#179CCC","#0FAAB4","#3BB69A","#6CBA7E","#9FB862","#C9B34B","#F2B23C","#FDC72C","#F8F617"]}, "legend": null}
 }
},
{"width": 206, "height": 884, "data": {"values": []}, "mark": {"type": "point"}, "encoding": {}, "view": {"stroke": null, "fill": null}},
{
 "width": 647, "height": 884,
 "data": {"name": "h4"},
 "title": {"text": "generierter Fall"},
 "mark": {"type": "bar", "width": 2.4},
 "encoding": {
  "x": {"field": "x", "type": "quantitative", "scale": {"domain": [0, 18], "nice": false, "zero": false},
        "axis": {"values": [0,1,2,3,4,5,6,7,8,9,10,11,12,13,14,15,16,17,18], "format": "d", "labelFontSize": 25, "tickSize": -10, "labelPadding": 22,
                 "title": ["Leitungsbelastung in %", "(lbₘₐₓ = 15,6105%)"], "titleFontSize": 54, "titleY": 121, "titleBaseline": "alphabetic", "titleLineHeight": 74}},
  "y": {"field": "n", "type": "quantitative", "scale": {"domain": [0, 8000], "nice": false},
        "axis": {"values": [0,1000,2000,3000,4000,5000,6000,7000,8000], "format": "d", "labelFontSize": 25, "tickSize": -10, "labelPadding": 18, "title": null}},
  "color": {"field": "k", "type": "nominal", "scale": {"domain": [0,1,2,3,4,5,6,7,8,9,10,11,12], "range": ["#2E2A7E","#2446C6","#0B66DA","#1486D6","#179CCC","#0FAAB4","#3BB69A","#6CBA7E","#9FB862","#C9B34B","#F2B23C","#FDC72C","#F8F617"]}, "legend": null}
 }
}
],
"spacing": 0,
"bounds": "flush"
},
{
"hconcat": [
{
 "width": 1463, "height": 866,
 "data": {"name": "left"},
 "mark": {"type": "line", "strokeWidth": 2.4, "strokeDash": [9, 5], "point": {"filled": true, "size": 50}},
 "encoding": {
  "x": {"field": "n", "type": "quantitative", "scale": {"domain": [0, 229], "nice": false, "zero": false},
        "axis": {"values": [0,10,20,30,40,50,60,70,80,90,100,110,120,130,140,150,160,170,180,190,200,210,220,229], "format": "d", "labelFontSize": 31, "tickSize": -14, "labelPadding": 31,
                 "title": "Anzahl synthetisierter Profile", "titleFontSize": 52, "titleX": 759, "titleY": 95, "titleBaseline": "alphabetic"}},
  "y": {"field": "v", "type": "quantitative", "scale": {"domain": [-0.3, 0.4], "nice": false, "zero": false},
        "axis": {"values": [-0.3,-0.28,-0.26,-0.24,-0.22,-0.2,-0.18,-0.16,-0.14,-0.12,-0.1,-0.08,-0.06,-0.04,-0.02,0,0.02,0.04,0.06,0.08,0.1,0.12,0.14,0.16,0.18,0.2,0.22,0.24,0.26,0.28,0.3,0.32,0.34,0.36,0.38,0.4],
                 "labelExpr": "abs(datum.value*10 - round(datum.value*10)) < 0.01 ? replace(format(datum.value, '.1~f'), '−', '-') : ''", "labelFontSize": 28, "tickSize": -14, "labelPadding": 22,
                 "title": "rel. Spannungsfehler", "titleFontSize": 66, "titleAngle": 270, "titleX": -68, "titleY": 454, "titleBaseline": "alphabetic", "titleAlign": "center"}},
  "color": {"field": "s", "type": "nominal",
            "scale": {"domain": ["100%","99.875%","99.75%","99.5%","99%","98%","97%","96%","95%","90%","85%","80%"], "range": ["#FF0000","#FF8000","#FFFF00","#80FF00","#00FF00","#00FF80","#00FFFF","#0080FF","#0000FF","#8000FF","#FF00FF","#FF0080"]},
            "legend": {"title": null, "orient": "none", "legendX": 87, "legendY": 5, "direction": "horizontal", "columns": 12, "symbolType": "stroke", "symbolSize": 576, "symbolStrokeWidth": 2.5, "symbolDash": [6, 4], "labelFont": "Liberation Sans", "labelFontSize": 27, "labelColor": "black", "fillColor": "white", "strokeColor": "#262626", "padding": 8, "columnPadding": 6, "labelOffset": 3}},
  "detail": {"field": "h"}
 }
},
{
 "width": 1466, "height": 866,
 "data": {"name": "right"},
 "mark": {"type": "line", "strokeWidth": 2.2, "point": {"filled": true, "size": 50}},
 "encoding": {
  "x": {"field": "n", "type": "quantitative", "scale": {"domain": [0, 229], "nice": false, "zero": false},
        "axis": {"values": [0,10,20,30,40,50,60,70,80,90,100,110,120,130,140,150,160,170,180,190,200,210,220,229], "format": "d", "labelFontSize": 31, "tickSize": -14, "labelPadding": 31,
                 "title": "Anzahl synthetisierter Profile", "titleFontSize": 52, "titleX": 758, "titleY": 95, "titleBaseline": "alphabetic"}},
  "y": {"field": "v", "type": "quantitative", "scale": {"domain": [-0.44, 0.48], "nice": false, "zero": false},
        "axis": {"values": [-0.44,-0.42,-0.4,-0.38,-0.36,-0.34,-0.32,-0.3,-0.28,-0.26,-0.24,-0.22,-0.2,-0.18,-0.16,-0.14,-0.12,-0.1,-0.08,-0.06,-0.04,-0.02,0,0.02,0.04,0.06,0.08,0.1,0.12,0.14,0.16,0.18,0.2,0.22,0.24,0.26,0.28,0.3,0.32,0.34,0.36,0.38,0.4,0.42,0.44,0.46,0.48],
                 "labelExpr": "abs(datum.value*25 - round(datum.value*25)) < 0.01 ? replace(format(datum.value, '.2~f'), '−', '-') : ''", "labelFontSize": 28, "tickSize": -14, "labelPadding": 24,
                 "title": "rel. Leitungsbelastungsfehler", "titleFontSize": 50, "titleAngle": 270, "titleX": -99, "titleY": 432, "titleBaseline": "alphabetic", "titleAlign": "center"}},
  "color": {"field": "s", "type": "nominal",
            "scale": {"domain": ["100%","99.875%","99.75%","99.5%","99%","98%","97%","96%","95%","90%","85%","80%"], "range": ["#FF0000","#FF8000","#FFFF00","#80FF00","#00FF00","#00FF80","#00FFFF","#0080FF","#0000FF","#8000FF","#FF00FF","#FF0080"]},
            "legend": {"title": null, "orient": "none", "legendX": 92, "legendY": 18, "direction": "horizontal", "columns": 12, "symbolType": "stroke", "symbolSize": 576, "symbolStrokeWidth": 2.5, "labelFont": "Liberation Sans", "labelFontSize": 27, "labelColor": "black", "fillColor": "white", "strokeColor": "#262626", "padding": 8, "columnPadding": 6, "labelOffset": 3}},
  "strokeDash": {"field": "s", "type": "nominal",
            "scale": {"domain": ["100%","99.875%","99.75%","99.5%","99%","98%","97%","96%","95%","90%","85%","80%"], "range": [[2,3],[10,4,2,4],[9,5],[2,3],[10,4,2,4],[9,5],[2,3],[10,4,2,4],[9,5],[2,3],[10,4,2,4],[9,5]]},
            "legend": {"title": null, "orient": "none", "legendX": 92, "legendY": 18, "direction": "horizontal", "columns": 12, "symbolType": "stroke", "symbolSize": 576, "symbolStrokeWidth": 2.5, "labelFont": "Liberation Sans", "labelFontSize": 27, "labelColor": "black", "fillColor": "white", "strokeColor": "#262626", "padding": 8, "columnPadding": 6, "labelOffset": 3}},
  "detail": {"field": "h"}
 }
}
],
"spacing": 219,
"bounds": "flush",
"resolve": {"scale": {"color": "independent", "strokeDash": "independent"}}
}
]
}
